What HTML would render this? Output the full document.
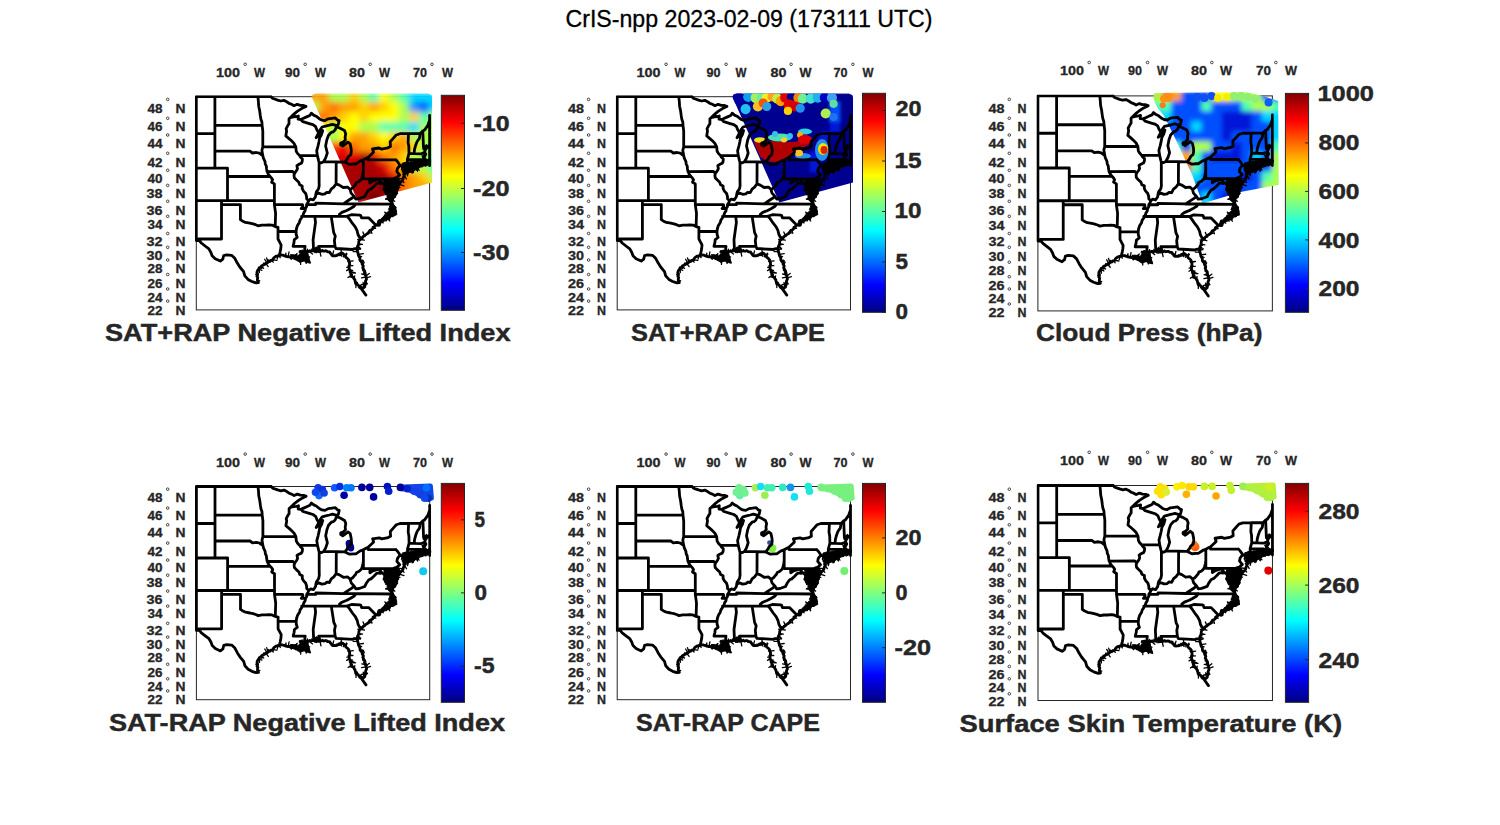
<!DOCTYPE html><html><head><meta charset="utf-8"><style>html,body{margin:0;padding:0;background:#fff;width:1500px;height:825px;overflow:hidden}svg{display:block}text{font-family:"Liberation Sans",sans-serif}</style></head><body>
<svg width="1500" height="825" viewBox="0 0 1500 825">
<defs>
<linearGradient id="jet" x1="0" y1="1" x2="0" y2="0"><stop offset="0" stop-color="#000080"/><stop offset="0.125" stop-color="#0000ff"/><stop offset="0.375" stop-color="#00ffff"/><stop offset="0.625" stop-color="#ffff00"/><stop offset="0.875" stop-color="#ff0000"/><stop offset="1" stop-color="#800000"/></linearGradient>
<clipPath id="fc"><rect x="-1.5" y="-1.5" width="236.3" height="216.2"/></clipPath>
<g id="map"><path d="M0.0,0.0 L74.7,0.0 M74.7,0.0 L76.0,1.4 L77.6,2.1 L81.3,3.4 L84.5,4.3 L87.6,3.6 L90.8,5.3 L92.7,6.7 L95.2,7.6 L97.7,9.0 L100.9,7.6 L104.0,8.6 L107.2,8.8 L109.7,9.7 M109.7,9.7 L105.3,11.9 L100.9,14.7 L97.1,17.9 L93.9,21.0 M93.9,21.0 L92.7,22.1 L92.7,27.1 L91.7,28.5 L89.8,32.1 L90.3,34.3 L89.5,39.2 L92.7,41.9 L95.2,44.1 L97.7,46.7 L99.5,50.2 M93.9,21.0 L97.1,20.2 L100.2,19.8 L102.1,19.3 L101.8,22.5 L104.5,22.8 M104.5,22.8 L106.6,25.0 L112.9,26.9 L116.6,28.0 L119.2,29.8 L120.7,33.4 L122.3,36.1 M122.3,36.1 L124.2,32.5 L125.8,30.3 L129.3,29.4 L133.0,28.5 L136.2,27.6 L140.3,28.9 L141.9,28.0 L142.8,23.9 L141.2,23.4 L139.0,21.2 L135.6,21.6 L131.8,22.1 L128.6,23.9 L125.5,23.4 L123.6,22.5 L119.8,19.5 L117.3,18.4 L115.0,16.5 L113.5,18.8 L110.3,20.2 L107.2,21.6 L104.5,22.8 M122.3,36.1 L121.4,37.9 L119.8,41.0 L121.7,39.2 L123.9,36.1 L126.4,33.9 L125.2,37.9 L123.3,41.4 L122.6,45.4 L121.7,49.3 L120.4,54.1 L121.1,58.9 M103.1,58.7 L121.1,58.9 M121.1,58.9 L122.3,63.9 L122.8,65.6 L124.8,66.2 L127.2,65.1 M127.2,65.1 L129.3,61.4 L131.0,56.3 L129.3,49.3 L130.5,43.2 L132.1,38.8 L134.9,35.7 L136.8,35.2 L138.7,33.4 L140.3,30.0 M140.3,30.0 L143.8,31.6 L148.2,33.9 L149.4,37.0 L148.8,40.6 L149.1,43.2 L145.6,46.7 L146.3,49.3 L148.8,47.6 L151.6,45.4 L153.8,47.2 L154.8,51.9 L155.0,54.5 L154.5,58.0 L152.0,60.1 L150.7,62.7 L148.5,65.4 M127.2,65.1 L139.9,65.1 L148.5,65.4 M61.6,0.0 L62.1,4.8 L62.4,9.5 L63.4,14.2 L64.0,18.8 L64.6,22.5 L65.6,25.3 L65.8,28.6 M65.8,28.6 L66.5,34.3 L66.5,50.2 M66.5,50.2 L99.5,50.2 M66.5,50.2 L65.6,53.7 L66.5,58.9 M18.6,54.5 L53.6,54.5 L56.1,56.3 L59.9,55.8 L63.0,56.5 L65.6,58.4 L66.5,58.9 M66.5,58.9 L67.1,61.4 L68.7,64.8 L69.0,67.3 L70.0,69.4 L70.3,72.3 L70.8,75.0 L71.9,77.3 L73.7,79.8 M73.7,79.8 L75.0,81.0 L76.3,83.1 L75.3,85.5 L78.1,87.2 L78.1,104.0 M70.8,75.0 L96.3,74.8 L98.2,76.7 M99.5,50.2 L99.9,54.5 L101.2,56.7 L103.1,58.7 L104.3,60.5 L106.1,62.2 L105.9,64.8 L105.0,66.6 L102.5,67.7 L100.6,69.0 L101.2,71.9 L100.2,74.0 L98.2,76.7 M98.2,76.7 L97.7,78.6 L98.0,81.0 L99.9,83.1 L102.5,85.5 L103.4,88.0 L105.9,89.2 L105.9,92.0 L107.2,94.4 L109.4,96.8 L110.3,100.0 L110.3,102.0 L112.4,104.0 M112.4,104.0 L111.6,105.9 L110.3,107.9 L110.3,109.9 L109.1,111.8 L108.8,114.2 L107.5,116.1 L106.6,118.8 L105.3,121.1 L103.7,123.4 L103.1,125.7 L101.2,128.7 L100.2,131.8 L99.8,134.8 M99.8,134.8 L99.9,137.8 L100.9,140.8 L98.0,143.0 L97.7,146.0 L97.1,148.2 L96.8,149.6 L108.8,149.6 L108.4,152.6 L109.7,155.5 M78.1,107.9 L106.2,107.9 L106.6,109.5 L104.9,111.8 L108.9,111.8 M18.6,0.0 L18.6,71.5 M0.0,37.0 L18.6,37.0 M18.6,28.6 L65.8,28.6 M0.0,71.5 L31.2,71.5 L31.2,104.0 M31.2,79.8 L73.7,79.8 M0.0,104.0 L78.1,104.0 M25.2,104.0 L25.2,142.3 L2.4,142.3 M25.2,107.9 L44.1,107.9 L44.1,122.9 M44.1,122.9 L46.0,124.2 L49.2,125.7 L53.6,126.5 L56.7,127.2 L59.3,128.0 L61.8,129.1 L65.6,128.4 L69.4,128.4 L72.5,128.1 L75.7,128.4 L78.8,129.9 L81.7,130.6 M78.1,107.9 L79.3,116.5 L78.9,129.9 M78.1,104.0 L78.1,107.9 M81.7,130.6 L81.7,134.6 L99.8,134.8 M81.7,134.6 L81.7,142.3 L83.2,145.2 L84.8,148.2 L84.5,151.8 L83.9,154.8 L82.9,159.0 M0.0,143.9 L3.0,143.9 L5.0,146.3 L8.8,149.3 L12.6,152.2 L14.5,155.5 L15.8,159.1 L18.9,162.0 L24.0,164.4 L26.5,162.4 L27.4,158.8 L30.3,158.1 L35.3,158.6 L38.5,161.6 L41.0,166.4 L43.5,170.3 L47.3,174.9 L48.5,179.2 L51.7,182.7 L55.5,184.8 L59.9,186.2 L62.1,185.9 M62.1,185.9 L61.7,184.6 L61.0,183.4 L61.2,182.0 L61.5,180.8 L60.6,179.6 L61.3,178.3 L60.8,177.1 L60.6,175.8 L60.9,174.6 L61.5,173.5 L62.4,172.3 L63.0,171.0 L64.2,170.7 L64.8,169.7 L65.6,168.9 L66.7,168.7 L67.5,167.8 L68.6,167.6 L69.4,166.7 L70.6,166.5 L71.5,165.5 L72.5,164.9 L73.8,164.6 L74.3,163.7 L75.5,163.6 L76.4,163.1 L76.9,162.0 L77.7,160.9 L78.8,160.2 L79.7,159.5 L80.9,159.7 L81.8,158.9 L82.9,159.0 M82.9,159.0 L84.0,158.7 L85.2,158.3 L86.4,158.4 L87.5,158.9 L88.6,159.2 L89.6,159.7 L90.8,159.9 L91.8,160.2 L92.9,160.2 L93.9,159.9 L95.1,159.9 L96.0,160.8 L97.1,161.0 L98.3,161.8 L99.6,162.4 L101.0,162.2 L102.2,162.4 L103.4,163.1 L104.4,163.6 L105.5,163.6 L106.6,163.5 L107.6,162.4 L109.1,162.0 L110.4,162.4 L111.3,163.5 L112.5,164.2 L112.2,162.9 L111.6,161.7 L110.4,161.3 L109.7,160.2 L110.0,158.4 L109.3,157.4 L108.4,156.6 L109.7,155.5 M109.7,155.5 L110.7,155.3 L111.5,154.6 L112.6,154.6 L113.5,154.0 L114.7,154.5 L116.0,154.1 L117.3,154.2 L118.1,153.5 L119.2,153.3 L119.8,151.8 L120.7,153.3 L120.1,155.1 L121.1,154.5 L122.3,154.8 L123.6,154.7 L124.8,154.4 L125.9,154.0 L127.1,154.5 L128.2,154.4 L129.3,154.0 L130.4,154.3 L131.2,155.2 L132.4,155.1 L133.5,155.4 L133.9,156.6 L134.9,157.0 L135.3,158.2 L136.2,159.1 L137.2,159.2 L138.3,159.0 L139.3,159.1 L140.6,158.8 L141.6,158.2 L142.5,157.3 L143.8,157.0 L145.0,156.2 L146.4,156.7 L147.5,157.7 L148.5,158.3 L149.1,159.1 L149.3,160.2 L150.1,161.0 L151.0,161.7 L151.9,162.5 L152.6,163.5 L152.6,164.7 L153.3,165.8 L153.2,167.1 L153.5,168.2 L152.6,169.2 L152.9,170.3 L152.9,171.4 L152.8,172.4 L153.6,173.3 L153.8,174.3 L153.8,175.3 L154.6,176.2 L154.5,177.5 L155.2,178.3 L155.5,179.5 L156.4,180.3 L157.3,181.1 L157.8,182.2 L158.6,183.1 L158.7,184.1 L159.1,185.2 L159.2,186.2 L159.7,187.5 L161.2,187.7 L162.1,188.6 L162.7,189.7 L163.4,190.8 L164.6,191.5 L165.5,190.8 L166.8,191.5 L167.7,190.8 L168.5,190.0 L168.0,188.7 L169.1,188.0 L169.3,186.9 L169.2,185.8 L169.2,184.6 L169.6,183.6 L170.2,182.5 L169.9,181.3 L169.7,180.3 L169.8,179.1 L169.0,178.2 L169.0,177.1 L168.7,176.0 L168.5,175.0 L168.1,174.0 L167.0,173.3 L167.1,172.1 L166.4,171.0 L167.0,169.6 L166.5,168.5 L165.8,167.4 L165.7,166.0 L164.9,164.9 L164.1,164.1 L163.6,163.2 L163.6,162.0 L163.5,160.9 L162.8,159.9 L162.2,158.9 L162.0,157.7 L161.7,156.7 L161.6,155.7 L161.0,154.8 L161.1,153.7 L161.1,151.8 M161.1,151.8 L161.0,150.5 L161.4,149.3 L162.0,148.2 L162.4,147.0 L162.4,145.7 L162.7,144.5 L163.0,143.4 L164.0,142.8 L164.7,142.0 L165.6,141.3 L166.3,140.4 L167.1,139.6 L168.2,139.3 L168.9,138.2 L169.9,137.7 L170.9,137.0 L171.8,136.5 L172.4,135.5 L173.0,134.7 L173.6,133.7 L174.6,133.3 L175.7,132.7 L176.5,131.9 L176.7,130.5 L177.9,130.0 L178.7,129.2 L179.4,128.3 M179.4,128.3 L180.6,128.2 L181.9,128.7 L183.2,128.4 L183.4,127.1 L183.9,125.9 L184.7,124.9 L185.5,124.0 L186.9,124.0 L187.5,122.8 L188.5,122.3 L189.8,122.4 L191.0,121.8 L192.3,122.3 L193.0,121.2 L193.6,119.9 L194.5,118.9 L196.1,119.1 L197.0,118.0 L198.6,117.6 L198.7,116.6 L198.0,115.5 L198.3,114.4 L198.3,113.4 L197.6,112.5 L197.2,111.4 L197.0,110.3 L196.8,108.8 L196.3,107.5 M196.3,107.5 L195.8,106.2 L195.8,104.8 L194.5,104.8 L193.6,104.0 L192.7,102.9 L192.6,101.6 L192.9,100.3 L193.6,99.2 L193.5,98.0 L193.9,96.8 L193.1,95.7 L193.2,94.4 L192.6,93.5 L192.8,92.2 L192.3,91.2 L192.8,90.2 L192.1,89.0 L192.6,88.0 L192.5,86.9 L192.0,85.9 L192.7,85.0 L194.0,84.8 L194.8,83.9 L195.5,83.5 L195.5,84.8 L194.6,85.9 L194.5,87.2 L194.4,88.2 L193.8,89.1 L193.4,90.1 L193.6,91.2 L193.8,92.4 L194.5,93.4 L195.1,94.4 L195.4,95.8 L196.4,96.8 L196.4,98.0 L196.6,99.3 L195.9,100.4 L196.0,101.6 L195.8,102.8 L196.1,101.7 L196.7,100.7 L197.7,100.0 L198.5,99.3 L198.4,98.0 L199.5,97.4 L199.9,96.4 L200.1,95.3 L200.4,94.3 L200.6,93.3 L201.4,92.4 L200.9,91.0 L201.1,89.6 L200.4,88.3 L199.6,87.2 L198.9,86.2 L198.6,85.0 L198.3,83.9 L198.6,82.9 L198.6,81.9 M196.8,82.1 L197.3,92.3 L201.4,92.4 M167.0,82.1 L196.8,82.1 L198.6,81.2 M167.0,63.1 L167.0,82.1 M167.0,74.5 L166.5,77.3 L165.8,80.6 L164.9,82.7 L162.7,84.7 L160.1,85.9 L159.2,88.0 L158.3,88.8 L156.4,91.2 L153.8,92.8 M153.8,92.8 L151.3,90.4 L146.9,90.8 L143.1,88.4 L139.8,87.2 M139.8,87.2 L137.4,90.4 L134.9,92.4 L133.0,96.0 L130.5,95.6 L128.6,97.2 L125.5,97.6 L122.3,96.4 L119.5,97.6 M119.5,97.6 L119.2,100.0 L117.0,103.2 L114.1,102.4 L112.4,104.0 M119.5,97.6 L120.1,95.2 L122.3,92.0 L122.9,88.8 L122.8,85.1 L122.8,65.6 M139.8,87.2 L139.9,65.1 M153.8,92.8 L154.8,96.4 L157.8,99.7 L155.4,101.6 L152.3,103.6 L147.0,107.1 M157.8,99.7 L159.5,102.4 L162.7,102.0 L164.9,101.2 L168.3,100.0 L169.9,96.8 L172.4,93.2 L174.6,92.4 L177.2,90.0 L180.3,86.8 L182.5,86.3 L183.9,86.9 L184.6,85.4 M167.0,82.1 L173.5,82.1 L173.5,86.3 L176.5,84.3 L179.7,83.5 L182.5,82.7 L184.1,84.3 L184.6,85.4 M184.6,85.4 L186.3,86.8 L188.5,88.4 L188.8,90.0 L187.6,92.8 L189.1,93.6 L191.7,94.8 L193.9,96.8 M110.3,107.9 L119.4,107.9 L119.4,106.5 L147.0,107.1 L159.6,107.2 L196.3,107.5 M159.6,107.2 L157.9,109.5 L153.8,112.0 L150.4,113.8 L145.6,115.7 L143.1,117.6 L143.0,119.6 M143.0,119.6 L105.3,119.6 M143.0,119.6 L150.7,119.6 L155.1,118.0 L163.7,118.4 L164.4,118.8 L165.2,121.1 L172.3,121.1 L179.4,128.3 M150.7,119.6 L152.9,121.9 L156.0,126.5 L158.9,130.2 L160.8,134.0 L161.7,137.8 L163.3,140.8 L164.7,142.0 M134.9,119.6 L137.4,135.9 L139.0,139.3 L138.1,143.7 L138.7,149.6 M161.1,151.8 L157.3,152.2 L156.4,152.8 L139.6,151.8 L138.7,149.6 L122.3,149.6 L122.3,154.8 M118.5,119.6 L119.2,125.7 L116.8,143.0 L117.3,154.2 M171.7,60.8 L171.7,63.1 L199.5,63.1 M148.5,65.4 L153.2,67.7 L157.6,67.3 L159.5,67.3 L163.9,64.4 L167.0,63.3 L169.6,61.8 L171.7,60.8 L176.5,56.3 L177.2,55.4 L176.2,52.3 M176.2,52.3 L182.8,51.3 L185.4,52.4 L191.7,51.1 L194.2,49.8 L193.9,45.0 L196.7,41.9 L199.9,38.3 L203.7,37.0 L212.2,36.9 L223.8,36.9 L226.5,34.3 L228.2,33.4 L231.4,28.9 L233.3,23.4 M199.5,63.1 L201.1,64.8 L203.7,68.5 L201.1,71.9 L200.5,74.8 L201.8,76.5 L203.3,78.2 L201.1,80.2 L198.6,81.9 M203.7,68.5 L208.7,71.5 M198.6,81.9 L198.9,82.9 L198.3,83.9 L198.7,84.9 L199.7,85.3 L200.5,85.9 L200.8,86.9 L201.5,87.7 L202.1,88.5 L203.0,87.7 L203.4,86.5 L204.3,85.5 L205.1,84.8 L205.8,84.1 L206.4,83.2 L206.8,82.3 L206.9,81.2 L207.4,80.3 L207.7,79.4 L207.7,78.3 L208.3,77.2 L208.1,76.1 L206.8,74.8 L208.1,74.0 L208.2,72.7 L208.7,71.5 M210.3,71.5 L211.2,70.7 L211.1,62.7 L212.7,56.7 L212.5,49.3 L211.8,45.8 L212.2,36.9 M208.1,74.8 L209.2,75.1 L210.2,74.2 L211.4,74.3 L212.5,74.4 L213.6,74.5 L214.5,73.7 L215.6,73.8 L216.5,72.9 L217.5,72.8 L218.4,71.9 L219.4,71.6 L220.6,71.5 L221.6,71.1 L220.4,71.3 L219.2,70.9 L218.1,72.0 L216.9,71.7 L215.8,71.5 L214.9,71.9 L213.9,71.9 L213.0,72.8 L211.9,72.0 L210.9,72.4 L210.0,72.8 L209.1,73.7 L208.1,74.4 M210.3,71.5 L211.2,71.0 L212.0,70.3 L213.2,70.4 L214.0,69.8 L215.0,69.4 L216.3,69.7 L217.5,69.1 L218.8,69.2 L220.2,68.9 L221.6,68.8 L222.7,68.3 L223.8,68.2 L225.1,68.1 L226.2,67.3 M221.6,68.8 L221.9,62.9 M211.1,62.7 L221.9,62.9 L224.6,62.9 L226.2,67.3 M226.2,67.3 L227.6,67.4 L228.9,66.9 L230.1,67.1 L231.0,66.2 L232.1,65.8 L233.3,66.1 L233.6,65.0 L233.6,63.9 L233.0,62.7 L232.2,63.6 L231.2,64.2 L230.1,64.8 L229.2,63.1 L228.7,62.0 L227.5,61.6 L227.0,60.5 L228.2,59.8 L228.9,58.8 L229.5,57.5 L229.0,56.5 L228.1,55.7 M212.7,56.7 L217.8,56.9 L225.1,57.1 L228.1,55.7 M217.8,56.9 L218.2,52.8 L219.4,48.5 L220.7,45.0 L223.2,41.4 L223.8,36.9 M228.1,55.7 L228.9,53.8 L227.2,51.1 L226.5,34.3 M228.9,53.8 L229.2,52.6 L230.1,51.7 L230.8,50.6 L231.8,50.0 L232.6,49.0 L233.3,48.0 M163.9,190.4 L169.6,198.4 M0.0,0.0 L0.0,143.9 M233.3,18.8 L233.3,69.0" fill="none" stroke="#000" stroke-width="2.8" stroke-linejoin="round" stroke-linecap="round" clip-path="url(#fc)"/><path d="M62.1,185.9 L57.2,186.0 M61.0,183.4 L63.5,184.1 M60.8,177.1 L59.5,177.9 M60.6,175.8 L61.9,176.9 M62.4,172.3 L65.6,173.6 M63.0,171.0 L63.1,175.9 M64.2,170.7 L65.5,171.7 M64.8,169.7 L67.3,171.6 M67.5,167.8 L67.6,166.1 M69.4,166.7 L71.9,169.9 M70.6,166.5 L68.4,162.5 M71.5,165.5 L70.3,161.2 M73.8,164.6 L71.7,163.1 M75.5,163.6 L76.9,165.5 M76.4,163.1 L80.6,163.7 M81.8,158.9 L80.9,162.3 M82.9,159.0 L83.9,161.0 M84.0,158.7 L84.0,155.0 M88.6,159.2 L89.5,157.1 M89.6,159.7 L89.6,156.4 M91.8,160.2 L92.7,155.3 M92.9,160.2 L95.0,162.6 M96.0,160.8 L96.2,159.2 M97.1,161.0 L95.5,162.0 M99.6,162.4 L99.9,157.7 M102.2,162.4 L105.5,159.0 M103.4,163.1 L105.0,161.6 M104.4,163.6 L104.3,167.7 M109.1,162.0 L109.7,165.9 M111.3,163.5 L109.1,165.1 M112.5,164.2 L109.8,166.6 M111.6,161.7 L111.7,164.3 M109.7,160.2 L113.4,160.3 M109.3,157.4 L110.4,154.8 M108.4,156.6 L110.3,157.6 M109.7,155.5 L111.7,157.3 M110.7,155.3 L110.8,159.4 M111.5,154.6 L111.1,152.5 M112.6,154.6 L116.2,157.4 M113.5,154.0 L110.5,156.8 M116.0,154.1 L115.4,152.3 M117.3,154.2 L118.6,155.9 M119.8,151.8 L123.1,151.1 M121.1,154.5 L119.9,150.3 M122.3,154.8 L119.8,151.5 M123.6,154.7 L124.6,159.4 M124.8,154.4 L123.3,150.7 M127.1,154.5 L126.2,152.9 M136.2,159.1 L137.3,154.3 M140.6,158.8 L139.8,157.5 M141.6,158.2 L144.0,158.6 M142.5,157.3 L142.9,158.9 M143.8,157.0 L145.4,159.5 M145.0,156.2 L144.8,153.0 M146.4,156.7 L144.8,159.0 M147.5,157.7 L147.1,160.1 M149.1,159.1 L150.7,157.3 M149.3,160.2 L150.0,156.4 M152.6,164.7 L156.8,164.2 M153.3,165.8 L151.3,164.3 M153.5,168.2 L152.9,166.0 M152.6,169.2 L156.6,169.0 M152.9,170.3 L150.5,170.7 M152.8,172.4 L150.3,173.9 M153.6,173.3 L156.3,173.7 M153.8,174.3 L158.1,175.9 M154.6,176.2 L159.2,176.3 M155.2,178.3 L151.7,180.9 M155.5,179.5 L156.0,178.0 M157.3,181.1 L153.1,180.0 M157.8,182.2 L158.4,179.1 M159.1,185.2 L161.0,186.2 M159.2,186.2 L161.1,185.6 M159.7,187.5 L159.6,190.9 M162.7,189.7 L165.3,187.7 M163.4,190.8 L164.6,189.4 M168.0,188.7 L166.8,185.7 M169.1,188.0 L166.4,187.4 M169.3,186.9 L164.8,188.3 M169.2,185.8 L167.4,187.2 M169.2,184.6 L171.1,187.2 M169.9,181.3 L174.2,179.9 M169.7,180.3 L165.2,181.1 M169.8,179.1 L173.0,176.8 M169.0,178.2 L165.4,177.3 M168.5,175.0 L167.3,176.3 M166.4,171.0 L169.1,174.5 M166.5,168.5 L167.9,165.6 M165.8,167.4 L167.4,168.7 M165.7,166.0 L167.1,164.1 M164.1,164.1 L166.5,163.4 M163.6,163.2 L167.7,165.4 M162.2,158.9 L165.3,160.0 M162.0,157.7 L167.0,157.0 M161.0,154.8 L156.8,154.9 M161.1,153.7 L164.4,151.5 M161.0,150.5 L163.2,150.4 M161.4,149.3 L164.1,152.5 M162.0,148.2 L163.8,148.2 M162.4,147.0 L166.1,147.7 M163.0,143.4 L161.4,142.7 M164.0,142.8 L168.1,143.5 M164.7,142.0 L164.4,140.2 M167.1,139.6 L166.3,142.1 M168.2,139.3 L166.6,135.3 M171.8,136.5 L174.2,136.2 M174.6,133.3 L175.6,136.7 M176.5,131.9 L179.4,131.6 M180.6,128.2 L178.1,130.8 M181.9,128.7 L181.9,123.7 M183.4,127.1 L178.9,128.5 M184.7,124.9 L186.9,126.2 M186.9,124.0 L189.1,124.1 M187.5,122.8 L188.2,118.3 M188.5,122.3 L187.9,119.5 M189.8,122.4 L190.3,124.1 M191.0,121.8 L192.8,118.1 M192.3,122.3 L193.5,124.3 M193.6,119.9 L191.0,118.9 M196.1,119.1 L192.5,116.6 M197.0,118.0 L197.5,119.5 M198.7,116.6 L197.2,117.7 M197.2,111.4 L199.5,110.6 M197.0,110.3 L194.2,111.4 M196.8,108.8 L194.2,112.6 M192.9,100.3 L193.5,102.1 M193.6,99.2 L197.0,100.9 M193.5,98.0 L191.3,97.3 M193.1,95.7 L189.0,96.2 M192.8,92.2 L194.6,91.6 M192.3,91.2 L190.6,90.1 M192.1,89.0 L190.6,88.8 M192.5,86.9 L191.0,86.6 M194.0,84.8 L196.6,89.0 M194.8,83.9 L196.1,86.9 M195.5,83.5 L199.2,84.7 M193.8,89.1 L197.2,91.1 M193.4,90.1 L197.2,92.3 M193.6,91.2 L196.9,90.2 M193.8,92.4 L195.6,89.9 M195.1,94.4 L197.7,95.6 M196.4,98.0 L192.8,96.1 M196.6,99.3 L194.8,98.7 M195.9,100.4 L192.3,103.3 M195.8,102.8 L198.4,104.6 M196.7,100.7 L192.6,97.9 M197.7,100.0 L197.5,97.9 M198.5,99.3 L201.2,96.5 M198.4,98.0 L199.1,99.9 M199.5,97.4 L196.5,94.0 M200.1,95.3 L201.1,96.7 M200.4,94.3 L196.4,93.0 M200.6,93.3 L200.0,91.7 M200.9,91.0 L203.6,90.8 M200.4,88.3 L195.7,89.5 M198.9,86.2 L195.3,85.0 M198.3,83.9 L194.1,85.0 M198.6,82.9 L201.7,80.4 M198.9,82.9 L195.2,83.4 M198.3,83.9 L202.6,81.9 M200.8,86.9 L198.8,87.3 M201.5,87.7 L199.2,87.6 M203.0,87.7 L207.6,89.1 M203.4,86.5 L199.1,84.7 M204.3,85.5 L201.1,82.8 M205.1,84.8 L202.6,83.9 M205.8,84.1 L207.6,85.8 M206.8,82.3 L202.3,81.7 M207.7,79.4 L211.1,76.4 M207.7,78.3 L210.1,82.2 M208.3,77.2 L206.3,77.5 M206.8,74.8 L205.1,72.7 M208.2,72.7 L205.4,71.8 M209.2,75.1 L209.0,70.6 M211.4,74.3 L211.5,70.1 M212.5,74.4 L211.1,79.2 M217.5,72.8 L214.8,70.5 M218.4,71.9 L216.8,76.0 M220.6,71.5 L222.8,73.6 M218.1,72.0 L220.1,67.8 M216.9,71.7 L215.8,76.4 M215.8,71.5 L215.6,69.3 M213.9,71.9 L215.8,76.2 M210.9,72.4 L209.4,70.3 M210.0,72.8 L209.2,68.8 M210.3,71.5 L207.3,70.0 M213.2,70.4 L211.3,69.8 M216.3,69.7 L215.3,67.0 M217.5,69.1 L216.6,65.7 M218.8,69.2 L217.6,73.3 M222.7,68.3 L222.3,66.0 M226.2,67.3 L226.4,69.8 M227.6,67.4 L225.4,63.3 M230.1,67.1 L229.6,62.9 M232.1,65.8 L232.4,62.7 M233.6,65.0 L229.5,62.6 M233.6,63.9 L231.7,65.8 M233.0,62.7 L235.0,65.5 M227.0,60.5 L225.7,59.2 M228.9,58.8 L226.5,59.0 M229.5,57.5 L226.7,59.6 M229.0,56.5 L227.1,58.4 M228.9,53.8 L226.8,52.5 M229.2,52.6 L228.0,49.7 M230.1,51.7 L228.9,48.8 M230.8,50.6 L230.1,48.3 M231.8,50.0 L230.0,48.0" fill="none" stroke="#000" stroke-width="1.3" stroke-linecap="round" clip-path="url(#fc)"/><polygon points="187.5,83.5 189.2,83.2 190.9,82.7 192.6,83.2 194.3,82.6 196.0,82.5 197.8,82.5 199.5,82.5 201.2,82.6 203.0,82.5 202.4,84.3 202.9,86.3 203.0,88.2 202.5,90.0 201.5,91.6 200.8,93.4 200.4,95.2 200.2,97.2 199.5,98.9 199.1,100.8 197.1,101.9 196.8,103.9 195.8,105.5 194.4,104.6 192.8,104.0 191.5,103.0 188.7,102.4 190.9,101.5 190.7,99.8 191.3,97.8 189.6,98.5 189.0,97.0 188.1,95.4 187.8,93.6 187.3,91.9 187.5,90.0 187.5,88.4 189.0,86.8 187.5,86.8 187.6,85.1 187.5,83.5" fill="#000" stroke="#000" stroke-width="1" stroke-linejoin="round"/><polygon points="195.0,107.0 196.6,108.1 198.4,109.0 199.7,110.5 199.6,112.4 200.2,114.2 200.3,116.1 200.5,118.0 198.8,118.4 197.1,118.7 195.3,118.7 193.7,119.7 192.0,120.0 190.6,121.4 188.6,121.6 186.9,122.5 185.4,123.7 184.0,125.0 182.3,126.3 180.5,127.5 181.5,124.5 182.5,123.0 184.5,122.8 185.5,121.2 186.9,120.3 188.1,119.0 189.5,118.0 188.3,115.2 190.4,116.2 191.7,114.7 193.8,113.6 192.1,112.8 193.0,111.0 193.6,108.8 195.0,107.0" fill="#000" stroke="#000" stroke-width="1" stroke-linejoin="round"/><polygon points="205.8,66.6 207.6,66.1 209.4,65.5 211.3,65.9 213.1,65.2 214.7,64.7 216.3,64.6 217.9,64.2 219.6,64.0 221.3,64.0 222.8,63.2 224.7,62.7 226.7,62.1 228.7,62.2 230.5,63.1 232.5,63.2 232.0,64.8 232.2,66.5 232.5,68.1 230.9,68.7 229.4,69.6 227.5,69.0 226.0,70.1 224.4,70.4 222.8,71.0 221.4,72.1 221.2,74.9 219.9,73.0 218.2,73.5 217.0,74.9 215.1,73.2 215.3,75.1 213.6,75.8 211.8,75.9 210.1,76.2 208.3,75.8 207.4,74.2 207.6,71.8 206.4,72.6 205.4,71.0 205.7,68.8 205.8,66.6" fill="#000" stroke="#000" stroke-width="1" stroke-linejoin="round"/><polygon points="103.0,154.0 104.6,153.8 106.2,153.4 107.9,153.9 109.5,153.5 110.4,154.9 111.0,156.5 111.8,158.0 112.3,159.7 112.6,161.4 112.8,163.2 113.8,164.8 114.2,166.5 112.3,166.2 110.7,164.8 108.8,164.5 106.9,164.4 105.2,165.0 103.5,165.8 102.1,164.7 100.4,163.8 99.5,162.2 98.5,160.7 96.7,160.1 95.5,158.9 94.0,158.0 97.0,158.0 98.7,158.3 100.9,156.6 100.3,158.9 102.0,159.3 102.9,157.6 104.5,156.1 102.7,155.8 103.0,154.0" fill="#000" stroke="#000" stroke-width="1" stroke-linejoin="round"/><circle cx="145.5" cy="47.2" r="2.6" fill="#000"/></g>
<clipPath id="sw0"><polygon points="115.1,-0.2 116.7,-2.5 119.7,-3.2 231.7,-3.2 235.2,-1.7 235.9,0.3 235.9,85.8 162.2,105.7"/></clipPath><clipPath id="sw1"><polygon points="115.0,-0.2 116.6,-2.5 119.6,-3.2 231.6,-3.2 235.1,-1.7 235.8,0.3 235.8,85.8 162.1,105.7"/></clipPath><clipPath id="sw2"><polygon points="115.1,-2.9 207.1,-3.9 224.1,0.1 239.1,5.1 239.6,88.1 201.6,95.3 163.8,106.6 161.1,98.9 153.9,79.1 147.6,65.6 141.3,52.1 136.8,42.5 130.5,29.9 125.1,19.1 119.1,12.1 115.1,4.1"/></clipPath><filter id="bls" x="-5%" y="-5%" width="110%" height="110%"><feGaussianBlur stdDeviation="0.7"/></filter><filter id="bl0" x="-5%" y="-5%" width="110%" height="110%"><feGaussianBlur stdDeviation="3.2"/></filter><filter id="bl1" x="-5%" y="-5%" width="110%" height="110%"><feGaussianBlur stdDeviation="1.6"/></filter><filter id="bl2" x="-5%" y="-5%" width="110%" height="110%"><feGaussianBlur stdDeviation="2.4"/></filter>
</defs>
<g transform="translate(196.3,96.7)">
<rect x="0" y="0" width="233.3" height="213.2" fill="none" stroke="#262626" stroke-width="1"/>
<g clip-path="url(#sw0)"><g filter="url(#bl0)"><rect x="112.69999999999999" y="-4.700000000000003" width="12" height="12" fill="#ffa000"/><rect x="122.69999999999999" y="-4.700000000000003" width="12" height="12" fill="#ffa000"/><rect x="132.7" y="-4.700000000000003" width="12" height="12" fill="#a8ff50"/><rect x="142.7" y="-4.700000000000003" width="12" height="12" fill="#a8ff50"/><rect x="152.7" y="-4.700000000000003" width="12" height="12" fill="#ffd000"/><rect x="162.7" y="-4.700000000000003" width="12" height="12" fill="#a8ff50"/><rect x="172.7" y="-4.700000000000003" width="12" height="12" fill="#50ffb0"/><rect x="182.7" y="-4.700000000000003" width="12" height="12" fill="#ffff00"/><rect x="192.7" y="-4.700000000000003" width="12" height="12" fill="#a8ff50"/><rect x="202.7" y="-4.700000000000003" width="12" height="12" fill="#50ffb0"/><rect x="212.7" y="-4.700000000000003" width="12" height="12" fill="#00d8ff"/><rect x="222.7" y="-4.700000000000003" width="12" height="12" fill="#00d8ff"/><rect x="232.7" y="-4.700000000000003" width="12" height="12" fill="#00d8ff"/><rect x="112.69999999999999" y="5.299999999999997" width="12" height="12" fill="#a8ff50"/><rect x="122.69999999999999" y="5.299999999999997" width="12" height="12" fill="#ffa000"/><rect x="132.7" y="5.299999999999997" width="12" height="12" fill="#ff7000"/><rect x="142.7" y="5.299999999999997" width="12" height="12" fill="#ffa000"/><rect x="152.7" y="5.299999999999997" width="12" height="12" fill="#ffa000"/><rect x="162.7" y="5.299999999999997" width="12" height="12" fill="#ffd000"/><rect x="172.7" y="5.299999999999997" width="12" height="12" fill="#ffa000"/><rect x="182.7" y="5.299999999999997" width="12" height="12" fill="#ffd000"/><rect x="192.7" y="5.299999999999997" width="12" height="12" fill="#ffff00"/><rect x="202.7" y="5.299999999999997" width="12" height="12" fill="#a8ff50"/><rect x="212.7" y="5.299999999999997" width="12" height="12" fill="#0090ff"/><rect x="222.7" y="5.299999999999997" width="12" height="12" fill="#0050ff"/><rect x="232.7" y="5.299999999999997" width="12" height="12" fill="#00d8ff"/><rect x="112.69999999999999" y="15.299999999999997" width="12" height="12" fill="#ff7000"/><rect x="122.69999999999999" y="15.299999999999997" width="12" height="12" fill="#ff7000"/><rect x="132.7" y="15.299999999999997" width="12" height="12" fill="#ffa000"/><rect x="142.7" y="15.299999999999997" width="12" height="12" fill="#ffd000"/><rect x="152.7" y="15.299999999999997" width="12" height="12" fill="#ffff00"/><rect x="162.7" y="15.299999999999997" width="12" height="12" fill="#ffd000"/><rect x="172.7" y="15.299999999999997" width="12" height="12" fill="#ffff00"/><rect x="182.7" y="15.299999999999997" width="12" height="12" fill="#ffff00"/><rect x="192.7" y="15.299999999999997" width="12" height="12" fill="#ffff00"/><rect x="202.7" y="15.299999999999997" width="12" height="12" fill="#a8ff50"/><rect x="212.7" y="15.299999999999997" width="12" height="12" fill="#ffd000"/><rect x="222.7" y="15.299999999999997" width="12" height="12" fill="#50ffb0"/><rect x="232.7" y="15.299999999999997" width="12" height="12" fill="#a8ff50"/><rect x="112.69999999999999" y="25.299999999999997" width="12" height="12" fill="#ffff00"/><rect x="122.69999999999999" y="25.299999999999997" width="12" height="12" fill="#ffff00"/><rect x="132.7" y="25.299999999999997" width="12" height="12" fill="#a8ff50"/><rect x="142.7" y="25.299999999999997" width="12" height="12" fill="#ffff00"/><rect x="152.7" y="25.299999999999997" width="12" height="12" fill="#ffff00"/><rect x="162.7" y="25.299999999999997" width="12" height="12" fill="#a8ff50"/><rect x="172.7" y="25.299999999999997" width="12" height="12" fill="#a8ff50"/><rect x="182.7" y="25.299999999999997" width="12" height="12" fill="#50ffb0"/><rect x="192.7" y="25.299999999999997" width="12" height="12" fill="#50ffb0"/><rect x="202.7" y="25.299999999999997" width="12" height="12" fill="#50ffb0"/><rect x="212.7" y="25.299999999999997" width="12" height="12" fill="#00d8ff"/><rect x="222.7" y="25.299999999999997" width="12" height="12" fill="#a8ff50"/><rect x="232.7" y="25.299999999999997" width="12" height="12" fill="#a8ff50"/><rect x="112.69999999999999" y="35.3" width="12" height="12" fill="#a8ff50"/><rect x="122.69999999999999" y="35.3" width="12" height="12" fill="#a8ff50"/><rect x="132.7" y="35.3" width="12" height="12" fill="#a8ff50"/><rect x="142.7" y="35.3" width="12" height="12" fill="#ffff00"/><rect x="152.7" y="35.3" width="12" height="12" fill="#ffa000"/><rect x="162.7" y="35.3" width="12" height="12" fill="#ffa000"/><rect x="172.7" y="35.3" width="12" height="12" fill="#ffd000"/><rect x="182.7" y="35.3" width="12" height="12" fill="#ffff00"/><rect x="192.7" y="35.3" width="12" height="12" fill="#ffd000"/><rect x="202.7" y="35.3" width="12" height="12" fill="#ffa000"/><rect x="212.7" y="35.3" width="12" height="12" fill="#a8ff50"/><rect x="222.7" y="35.3" width="12" height="12" fill="#a8ff50"/><rect x="232.7" y="35.3" width="12" height="12" fill="#a8ff50"/><rect x="112.69999999999999" y="45.3" width="12" height="12" fill="#ff3800"/><rect x="122.69999999999999" y="45.3" width="12" height="12" fill="#ff3800"/><rect x="132.7" y="45.3" width="12" height="12" fill="#ff3800"/><rect x="142.7" y="45.3" width="12" height="12" fill="#e00000"/><rect x="152.7" y="45.3" width="12" height="12" fill="#ff7000"/><rect x="162.7" y="45.3" width="12" height="12" fill="#ffa000"/><rect x="172.7" y="45.3" width="12" height="12" fill="#ffa000"/><rect x="182.7" y="45.3" width="12" height="12" fill="#ffd000"/><rect x="192.7" y="45.3" width="12" height="12" fill="#ff7000"/><rect x="202.7" y="45.3" width="12" height="12" fill="#ffa000"/><rect x="212.7" y="45.3" width="12" height="12" fill="#ffd000"/><rect x="222.7" y="45.3" width="12" height="12" fill="#a8ff50"/><rect x="232.7" y="45.3" width="12" height="12" fill="#a8ff50"/><rect x="112.69999999999999" y="55.3" width="12" height="12" fill="#e00000"/><rect x="122.69999999999999" y="55.3" width="12" height="12" fill="#e00000"/><rect x="132.7" y="55.3" width="12" height="12" fill="#e00000"/><rect x="142.7" y="55.3" width="12" height="12" fill="#e00000"/><rect x="152.7" y="55.3" width="12" height="12" fill="#e00000"/><rect x="162.7" y="55.3" width="12" height="12" fill="#a80000"/><rect x="172.7" y="55.3" width="12" height="12" fill="#e00000"/><rect x="182.7" y="55.3" width="12" height="12" fill="#ff7000"/><rect x="192.7" y="55.3" width="12" height="12" fill="#ffa000"/><rect x="202.7" y="55.3" width="12" height="12" fill="#ffd000"/><rect x="212.7" y="55.3" width="12" height="12" fill="#a8ff50"/><rect x="222.7" y="55.3" width="12" height="12" fill="#a8ff50"/><rect x="232.7" y="55.3" width="12" height="12" fill="#50ffb0"/><rect x="112.69999999999999" y="65.3" width="12" height="12" fill="#a80000"/><rect x="122.69999999999999" y="65.3" width="12" height="12" fill="#a80000"/><rect x="132.7" y="65.3" width="12" height="12" fill="#a80000"/><rect x="142.7" y="65.3" width="12" height="12" fill="#a80000"/><rect x="152.7" y="65.3" width="12" height="12" fill="#a80000"/><rect x="162.7" y="65.3" width="12" height="12" fill="#a80000"/><rect x="172.7" y="65.3" width="12" height="12" fill="#a80000"/><rect x="182.7" y="65.3" width="12" height="12" fill="#e00000"/><rect x="192.7" y="65.3" width="12" height="12" fill="#ff7000"/><rect x="202.7" y="65.3" width="12" height="12" fill="#ffd000"/><rect x="212.7" y="65.3" width="12" height="12" fill="#a8ff50"/><rect x="222.7" y="65.3" width="12" height="12" fill="#a8ff50"/><rect x="232.7" y="65.3" width="12" height="12" fill="#50ffb0"/><rect x="112.69999999999999" y="75.3" width="12" height="12" fill="#a80000"/><rect x="122.69999999999999" y="75.3" width="12" height="12" fill="#a80000"/><rect x="132.7" y="75.3" width="12" height="12" fill="#a80000"/><rect x="142.7" y="75.3" width="12" height="12" fill="#a80000"/><rect x="152.7" y="75.3" width="12" height="12" fill="#a80000"/><rect x="162.7" y="75.3" width="12" height="12" fill="#a80000"/><rect x="172.7" y="75.3" width="12" height="12" fill="#a80000"/><rect x="182.7" y="75.3" width="12" height="12" fill="#a80000"/><rect x="192.7" y="75.3" width="12" height="12" fill="#e00000"/><rect x="202.7" y="75.3" width="12" height="12" fill="#ff7000"/><rect x="212.7" y="75.3" width="12" height="12" fill="#ffa000"/><rect x="222.7" y="75.3" width="12" height="12" fill="#ffd000"/><rect x="232.7" y="75.3" width="12" height="12" fill="#a8ff50"/><rect x="112.69999999999999" y="85.3" width="12" height="12" fill="#a80000"/><rect x="122.69999999999999" y="85.3" width="12" height="12" fill="#a80000"/><rect x="132.7" y="85.3" width="12" height="12" fill="#a80000"/><rect x="142.7" y="85.3" width="12" height="12" fill="#a80000"/><rect x="152.7" y="85.3" width="12" height="12" fill="#a80000"/><rect x="162.7" y="85.3" width="12" height="12" fill="#a80000"/><rect x="172.7" y="85.3" width="12" height="12" fill="#a80000"/><rect x="182.7" y="85.3" width="12" height="12" fill="#700000"/><rect x="192.7" y="85.3" width="12" height="12" fill="#ff3800"/><rect x="202.7" y="85.3" width="12" height="12" fill="#ff7000"/><rect x="212.7" y="85.3" width="12" height="12" fill="#ffa000"/><rect x="222.7" y="85.3" width="12" height="12" fill="#ffa000"/><rect x="232.7" y="85.3" width="12" height="12" fill="#ffd000"/><rect x="112.69999999999999" y="95.3" width="12" height="12" fill="#a80000"/><rect x="122.69999999999999" y="95.3" width="12" height="12" fill="#a80000"/><rect x="132.7" y="95.3" width="12" height="12" fill="#a80000"/><rect x="142.7" y="95.3" width="12" height="12" fill="#a80000"/><rect x="152.7" y="95.3" width="12" height="12" fill="#a80000"/><rect x="162.7" y="95.3" width="12" height="12" fill="#a80000"/><rect x="172.7" y="95.3" width="12" height="12" fill="#700000"/><rect x="182.7" y="95.3" width="12" height="12" fill="#a80000"/><rect x="192.7" y="95.3" width="12" height="12" fill="#ff3800"/><rect x="202.7" y="95.3" width="12" height="12" fill="#ff7000"/><rect x="212.7" y="95.3" width="12" height="12" fill="#ffa000"/><rect x="222.7" y="95.3" width="12" height="12" fill="#ffa000"/><rect x="232.7" y="95.3" width="12" height="12" fill="#ffa000"/></g></g>
<use href="#map"/>
</g>
<g transform="translate(617.2,96.7)">
<rect x="0" y="0" width="233.3" height="213.2" fill="none" stroke="#262626" stroke-width="1"/>
<g clip-path="url(#sw1)"><g filter="url(#bl1)"><rect x="112.59999999999991" y="-4.700000000000003" width="12" height="12" fill="#000090"/><rect x="122.59999999999991" y="-4.700000000000003" width="12" height="12" fill="#000090"/><rect x="132.5999999999999" y="-4.700000000000003" width="12" height="12" fill="#000090"/><rect x="142.5999999999999" y="-4.700000000000003" width="12" height="12" fill="#000090"/><rect x="152.5999999999999" y="-4.700000000000003" width="12" height="12" fill="#000090"/><rect x="162.5999999999999" y="-4.700000000000003" width="12" height="12" fill="#000090"/><rect x="172.5999999999999" y="-4.700000000000003" width="12" height="12" fill="#000090"/><rect x="182.5999999999999" y="-4.700000000000003" width="12" height="12" fill="#000090"/><rect x="192.5999999999999" y="-4.700000000000003" width="12" height="12" fill="#000090"/><rect x="202.5999999999999" y="-4.700000000000003" width="12" height="12" fill="#000090"/><rect x="212.5999999999999" y="-4.700000000000003" width="12" height="12" fill="#000090"/><rect x="222.5999999999999" y="-4.700000000000003" width="12" height="12" fill="#000090"/><rect x="232.5999999999999" y="-4.700000000000003" width="12" height="12" fill="#000090"/><rect x="112.59999999999991" y="5.299999999999997" width="12" height="12" fill="#000090"/><rect x="122.59999999999991" y="5.299999999999997" width="12" height="12" fill="#000090"/><rect x="132.5999999999999" y="5.299999999999997" width="12" height="12" fill="#000090"/><rect x="142.5999999999999" y="5.299999999999997" width="12" height="12" fill="#000090"/><rect x="152.5999999999999" y="5.299999999999997" width="12" height="12" fill="#000090"/><rect x="162.5999999999999" y="5.299999999999997" width="12" height="12" fill="#000090"/><rect x="172.5999999999999" y="5.299999999999997" width="12" height="12" fill="#000090"/><rect x="182.5999999999999" y="5.299999999999997" width="12" height="12" fill="#000090"/><rect x="192.5999999999999" y="5.299999999999997" width="12" height="12" fill="#000090"/><rect x="202.5999999999999" y="5.299999999999997" width="12" height="12" fill="#000090"/><rect x="212.5999999999999" y="5.299999999999997" width="12" height="12" fill="#0050ff"/><rect x="222.5999999999999" y="5.299999999999997" width="12" height="12" fill="#000090"/><rect x="232.5999999999999" y="5.299999999999997" width="12" height="12" fill="#000090"/><rect x="112.59999999999991" y="15.299999999999997" width="12" height="12" fill="#000090"/><rect x="122.59999999999991" y="15.299999999999997" width="12" height="12" fill="#000090"/><rect x="132.5999999999999" y="15.299999999999997" width="12" height="12" fill="#000090"/><rect x="142.5999999999999" y="15.299999999999997" width="12" height="12" fill="#000090"/><rect x="152.5999999999999" y="15.299999999999997" width="12" height="12" fill="#000090"/><rect x="162.5999999999999" y="15.299999999999997" width="12" height="12" fill="#000090"/><rect x="172.5999999999999" y="15.299999999999997" width="12" height="12" fill="#000090"/><rect x="182.5999999999999" y="15.299999999999997" width="12" height="12" fill="#000090"/><rect x="192.5999999999999" y="15.299999999999997" width="12" height="12" fill="#000090"/><rect x="202.5999999999999" y="15.299999999999997" width="12" height="12" fill="#000090"/><rect x="212.5999999999999" y="15.299999999999997" width="12" height="12" fill="#0050ff"/><rect x="222.5999999999999" y="15.299999999999997" width="12" height="12" fill="#000090"/><rect x="232.5999999999999" y="15.299999999999997" width="12" height="12" fill="#000090"/><rect x="112.59999999999991" y="25.299999999999997" width="12" height="12" fill="#000090"/><rect x="122.59999999999991" y="25.299999999999997" width="12" height="12" fill="#000090"/><rect x="132.5999999999999" y="25.299999999999997" width="12" height="12" fill="#000090"/><rect x="142.5999999999999" y="25.299999999999997" width="12" height="12" fill="#000090"/><rect x="152.5999999999999" y="25.299999999999997" width="12" height="12" fill="#000090"/><rect x="162.5999999999999" y="25.299999999999997" width="12" height="12" fill="#000090"/><rect x="172.5999999999999" y="25.299999999999997" width="12" height="12" fill="#000090"/><rect x="182.5999999999999" y="25.299999999999997" width="12" height="12" fill="#000090"/><rect x="192.5999999999999" y="25.299999999999997" width="12" height="12" fill="#000090"/><rect x="202.5999999999999" y="25.299999999999997" width="12" height="12" fill="#000090"/><rect x="212.5999999999999" y="25.299999999999997" width="12" height="12" fill="#0018d8"/><rect x="222.5999999999999" y="25.299999999999997" width="12" height="12" fill="#000090"/><rect x="232.5999999999999" y="25.299999999999997" width="12" height="12" fill="#000090"/><rect x="112.59999999999991" y="35.3" width="12" height="12" fill="#000090"/><rect x="122.59999999999991" y="35.3" width="12" height="12" fill="#000090"/><rect x="132.5999999999999" y="35.3" width="12" height="12" fill="#000090"/><rect x="142.5999999999999" y="35.3" width="12" height="12" fill="#000090"/><rect x="152.5999999999999" y="35.3" width="12" height="12" fill="#000090"/><rect x="162.5999999999999" y="35.3" width="12" height="12" fill="#000090"/><rect x="172.5999999999999" y="35.3" width="12" height="12" fill="#000090"/><rect x="182.5999999999999" y="35.3" width="12" height="12" fill="#000090"/><rect x="192.5999999999999" y="35.3" width="12" height="12" fill="#000090"/><rect x="202.5999999999999" y="35.3" width="12" height="12" fill="#0018d8"/><rect x="212.5999999999999" y="35.3" width="12" height="12" fill="#000090"/><rect x="222.5999999999999" y="35.3" width="12" height="12" fill="#000090"/><rect x="232.5999999999999" y="35.3" width="12" height="12" fill="#000090"/><rect x="112.59999999999991" y="45.3" width="12" height="12" fill="#000090"/><rect x="122.59999999999991" y="45.3" width="12" height="12" fill="#000090"/><rect x="132.5999999999999" y="45.3" width="12" height="12" fill="#000090"/><rect x="142.5999999999999" y="45.3" width="12" height="12" fill="#000090"/><rect x="152.5999999999999" y="45.3" width="12" height="12" fill="#000090"/><rect x="162.5999999999999" y="45.3" width="12" height="12" fill="#000090"/><rect x="172.5999999999999" y="45.3" width="12" height="12" fill="#000090"/><rect x="182.5999999999999" y="45.3" width="12" height="12" fill="#000090"/><rect x="192.5999999999999" y="45.3" width="12" height="12" fill="#000090"/><rect x="202.5999999999999" y="45.3" width="12" height="12" fill="#000090"/><rect x="212.5999999999999" y="45.3" width="12" height="12" fill="#000090"/><rect x="222.5999999999999" y="45.3" width="12" height="12" fill="#000090"/><rect x="232.5999999999999" y="45.3" width="12" height="12" fill="#000090"/><rect x="112.59999999999991" y="55.3" width="12" height="12" fill="#000090"/><rect x="122.59999999999991" y="55.3" width="12" height="12" fill="#000090"/><rect x="132.5999999999999" y="55.3" width="12" height="12" fill="#000090"/><rect x="142.5999999999999" y="55.3" width="12" height="12" fill="#000090"/><rect x="152.5999999999999" y="55.3" width="12" height="12" fill="#000090"/><rect x="162.5999999999999" y="55.3" width="12" height="12" fill="#000090"/><rect x="172.5999999999999" y="55.3" width="12" height="12" fill="#000090"/><rect x="182.5999999999999" y="55.3" width="12" height="12" fill="#000090"/><rect x="192.5999999999999" y="55.3" width="12" height="12" fill="#0018d8"/><rect x="202.5999999999999" y="55.3" width="12" height="12" fill="#000090"/><rect x="212.5999999999999" y="55.3" width="12" height="12" fill="#000090"/><rect x="222.5999999999999" y="55.3" width="12" height="12" fill="#000090"/><rect x="232.5999999999999" y="55.3" width="12" height="12" fill="#000090"/><rect x="112.59999999999991" y="65.3" width="12" height="12" fill="#000090"/><rect x="122.59999999999991" y="65.3" width="12" height="12" fill="#000090"/><rect x="132.5999999999999" y="65.3" width="12" height="12" fill="#000090"/><rect x="142.5999999999999" y="65.3" width="12" height="12" fill="#000090"/><rect x="152.5999999999999" y="65.3" width="12" height="12" fill="#000090"/><rect x="162.5999999999999" y="65.3" width="12" height="12" fill="#000090"/><rect x="172.5999999999999" y="65.3" width="12" height="12" fill="#000090"/><rect x="182.5999999999999" y="65.3" width="12" height="12" fill="#000090"/><rect x="192.5999999999999" y="65.3" width="12" height="12" fill="#0018d8"/><rect x="202.5999999999999" y="65.3" width="12" height="12" fill="#000090"/><rect x="212.5999999999999" y="65.3" width="12" height="12" fill="#000090"/><rect x="222.5999999999999" y="65.3" width="12" height="12" fill="#000090"/><rect x="232.5999999999999" y="65.3" width="12" height="12" fill="#000090"/><rect x="112.59999999999991" y="75.3" width="12" height="12" fill="#000090"/><rect x="122.59999999999991" y="75.3" width="12" height="12" fill="#000090"/><rect x="132.5999999999999" y="75.3" width="12" height="12" fill="#000090"/><rect x="142.5999999999999" y="75.3" width="12" height="12" fill="#000090"/><rect x="152.5999999999999" y="75.3" width="12" height="12" fill="#000090"/><rect x="162.5999999999999" y="75.3" width="12" height="12" fill="#000090"/><rect x="172.5999999999999" y="75.3" width="12" height="12" fill="#000090"/><rect x="182.5999999999999" y="75.3" width="12" height="12" fill="#000090"/><rect x="192.5999999999999" y="75.3" width="12" height="12" fill="#000090"/><rect x="202.5999999999999" y="75.3" width="12" height="12" fill="#000090"/><rect x="212.5999999999999" y="75.3" width="12" height="12" fill="#000090"/><rect x="222.5999999999999" y="75.3" width="12" height="12" fill="#000090"/><rect x="232.5999999999999" y="75.3" width="12" height="12" fill="#000090"/><rect x="112.59999999999991" y="85.3" width="12" height="12" fill="#000090"/><rect x="122.59999999999991" y="85.3" width="12" height="12" fill="#000090"/><rect x="132.5999999999999" y="85.3" width="12" height="12" fill="#000090"/><rect x="142.5999999999999" y="85.3" width="12" height="12" fill="#000090"/><rect x="152.5999999999999" y="85.3" width="12" height="12" fill="#000090"/><rect x="162.5999999999999" y="85.3" width="12" height="12" fill="#000090"/><rect x="172.5999999999999" y="85.3" width="12" height="12" fill="#000090"/><rect x="182.5999999999999" y="85.3" width="12" height="12" fill="#000090"/><rect x="192.5999999999999" y="85.3" width="12" height="12" fill="#000090"/><rect x="202.5999999999999" y="85.3" width="12" height="12" fill="#000090"/><rect x="212.5999999999999" y="85.3" width="12" height="12" fill="#000090"/><rect x="222.5999999999999" y="85.3" width="12" height="12" fill="#000090"/><rect x="232.5999999999999" y="85.3" width="12" height="12" fill="#000090"/><rect x="112.59999999999991" y="95.3" width="12" height="12" fill="#000090"/><rect x="122.59999999999991" y="95.3" width="12" height="12" fill="#000090"/><rect x="132.5999999999999" y="95.3" width="12" height="12" fill="#000090"/><rect x="142.5999999999999" y="95.3" width="12" height="12" fill="#000090"/><rect x="152.5999999999999" y="95.3" width="12" height="12" fill="#000090"/><rect x="162.5999999999999" y="95.3" width="12" height="12" fill="#000090"/><rect x="172.5999999999999" y="95.3" width="12" height="12" fill="#000090"/><rect x="182.5999999999999" y="95.3" width="12" height="12" fill="#000090"/><rect x="192.5999999999999" y="95.3" width="12" height="12" fill="#000090"/><rect x="202.5999999999999" y="95.3" width="12" height="12" fill="#000090"/><rect x="212.5999999999999" y="95.3" width="12" height="12" fill="#000090"/><rect x="222.5999999999999" y="95.3" width="12" height="12" fill="#000090"/><rect x="232.5999999999999" y="95.3" width="12" height="12" fill="#000090"/></g><g filter="url(#bls)"><polygon points="136.5,45.0 147.8,43.6 167.8,45.6 177.8,45.0 187.8,43.6 194.5,40.3 191.1,48.3 177.8,55.0 167.8,61.6 157.8,65.6 149.8,64.3 143.1,60.3" fill="#b00000"/><ellipse cx="142.8" cy="43.3" rx="6" ry="2.8" fill="#f0e020"/><ellipse cx="162.8" cy="40.8" rx="12" ry="4" fill="#50e0b0"/><ellipse cx="157.8" cy="37.3" rx="3" ry="3" fill="#30c0f0"/><ellipse cx="172.8" cy="39.3" rx="3" ry="3" fill="#30c0f0"/><ellipse cx="166.8" cy="43.3" rx="3" ry="2.5" fill="#ffd020"/><ellipse cx="187.8" cy="34.8" rx="7" ry="3" fill="#30d0e0"/><ellipse cx="182.8" cy="38.3" rx="3" ry="3" fill="#ffb000"/><ellipse cx="187.8" cy="42.8" rx="7" ry="4.5" fill="#e00000"/><ellipse cx="204.8" cy="53.3" rx="7" ry="11" fill="#2090f0"/><ellipse cx="205.8" cy="52.3" rx="5" ry="6" fill="#f0e000"/><ellipse cx="206.8" cy="53.3" rx="3.5" ry="4" fill="#e02000"/><ellipse cx="185.8" cy="59.3" rx="8" ry="3" fill="#2090f0"/><ellipse cx="181.8" cy="56.3" rx="4" ry="3.5" fill="#ffc020"/><circle cx="121.4" cy="1.9" r="6.1" fill="#0000a0"/><circle cx="131.0" cy="0.1" r="5.1" fill="#10a0f0"/><circle cx="139.0" cy="1.0" r="5.6" fill="#a0f060"/><circle cx="144.3" cy="1.0" r="4.6" fill="#60f0a0"/><circle cx="149.5" cy="1.0" r="5.1" fill="#f0f020"/><circle cx="154.8" cy="0.1" r="4.6" fill="#ffa020"/><circle cx="160.1" cy="1.9" r="5.1" fill="#c0f040"/><circle cx="163.6" cy="4.5" r="5.1" fill="#ffa000"/><circle cx="168.0" cy="1.0" r="5.1" fill="#e00000"/><circle cx="177.7" cy="4.5" r="5.1" fill="#e01000"/><circle cx="174.2" cy="0.1" r="4.6" fill="#000090"/><circle cx="181.2" cy="1.0" r="5.1" fill="#ff8000"/><circle cx="185.6" cy="1.9" r="5.1" fill="#70f090"/><circle cx="193.5" cy="1.9" r="5.1" fill="#40e0d0"/><circle cx="200.6" cy="1.0" r="5.1" fill="#20b0f0"/><circle cx="207.6" cy="1.0" r="5.1" fill="#0000c0"/><circle cx="214.7" cy="1.0" r="5.1" fill="#40a0f0"/><circle cx="128.4" cy="12.4" r="5.1" fill="#20c0f0"/><circle cx="140.7" cy="9.8" r="5.1" fill="#f8c020"/><circle cx="146.0" cy="6.3" r="4.6" fill="#ff5000"/><circle cx="149.5" cy="9.8" r="4.6" fill="#30a0e0"/><circle cx="172.4" cy="8.9" r="6.1" fill="#e00000"/><circle cx="177.7" cy="9.8" r="5.1" fill="#d00000"/><circle cx="170.7" cy="14.2" r="4.1" fill="#ffd000"/><circle cx="183.0" cy="11.5" r="4.6" fill="#2090f0"/><circle cx="216.4" cy="7.1" r="4.1" fill="#60e0a0"/><circle cx="208.5" cy="16.8" r="5.1" fill="#b0f050"/><circle cx="216.4" cy="20.3" r="4.1" fill="#2070f0"/></g></g>
<use href="#map"/>
</g>
<g transform="translate(1037.9,95.9) scale(1.005,1.0085)">
<rect x="0" y="0" width="233.3" height="213.2" fill="none" stroke="#262626" stroke-width="1"/>
<g clip-path="url(#sw2)"><g filter="url(#bl2)"><rect x="112.69999999999982" y="-4.900000000000006" width="12" height="12" fill="#a8ff50"/><rect x="122.69999999999982" y="-4.900000000000006" width="12" height="12" fill="#ff7000"/><rect x="132.69999999999982" y="-4.900000000000006" width="12" height="12" fill="#ffa000"/><rect x="142.69999999999982" y="-4.900000000000006" width="12" height="12" fill="#0050ff"/><rect x="152.69999999999982" y="-4.900000000000006" width="12" height="12" fill="#0050ff"/><rect x="162.69999999999982" y="-4.900000000000006" width="12" height="12" fill="#0050ff"/><rect x="172.69999999999982" y="-4.900000000000006" width="12" height="12" fill="#ffff00"/><rect x="182.69999999999982" y="-4.900000000000006" width="12" height="12" fill="#ffff00"/><rect x="192.69999999999982" y="-4.900000000000006" width="12" height="12" fill="#a8ff50"/><rect x="202.69999999999982" y="-4.900000000000006" width="12" height="12" fill="#a8ff50"/><rect x="212.69999999999982" y="-4.900000000000006" width="12" height="12" fill="#a8ff50"/><rect x="222.69999999999982" y="-4.900000000000006" width="12" height="12" fill="#0050ff"/><rect x="232.69999999999982" y="-4.900000000000006" width="12" height="12" fill="#0050ff"/><rect x="112.69999999999982" y="5.099999999999994" width="12" height="12" fill="#50ffb0"/><rect x="122.69999999999982" y="5.099999999999994" width="12" height="12" fill="#50ffb0"/><rect x="132.69999999999982" y="5.099999999999994" width="12" height="12" fill="#0050ff"/><rect x="142.69999999999982" y="5.099999999999994" width="12" height="12" fill="#0050ff"/><rect x="152.69999999999982" y="5.099999999999994" width="12" height="12" fill="#0050ff"/><rect x="162.69999999999982" y="5.099999999999994" width="12" height="12" fill="#50ffb0"/><rect x="172.69999999999982" y="5.099999999999994" width="12" height="12" fill="#0050ff"/><rect x="182.69999999999982" y="5.099999999999994" width="12" height="12" fill="#0050ff"/><rect x="192.69999999999982" y="5.099999999999994" width="12" height="12" fill="#0050ff"/><rect x="202.69999999999982" y="5.099999999999994" width="12" height="12" fill="#50ffb0"/><rect x="212.69999999999982" y="5.099999999999994" width="12" height="12" fill="#a8ff50"/><rect x="222.69999999999982" y="5.099999999999994" width="12" height="12" fill="#a8ff50"/><rect x="232.69999999999982" y="5.099999999999994" width="12" height="12" fill="#50ffb0"/><rect x="112.69999999999982" y="15.099999999999994" width="12" height="12" fill="#00d8ff"/><rect x="122.69999999999982" y="15.099999999999994" width="12" height="12" fill="#00d8ff"/><rect x="132.69999999999982" y="15.099999999999994" width="12" height="12" fill="#0050ff"/><rect x="142.69999999999982" y="15.099999999999994" width="12" height="12" fill="#0050ff"/><rect x="152.69999999999982" y="15.099999999999994" width="12" height="12" fill="#0050ff"/><rect x="162.69999999999982" y="15.099999999999994" width="12" height="12" fill="#0050ff"/><rect x="172.69999999999982" y="15.099999999999994" width="12" height="12" fill="#0050ff"/><rect x="182.69999999999982" y="15.099999999999994" width="12" height="12" fill="#0018d8"/><rect x="192.69999999999982" y="15.099999999999994" width="12" height="12" fill="#0018d8"/><rect x="202.69999999999982" y="15.099999999999994" width="12" height="12" fill="#0018d8"/><rect x="212.69999999999982" y="15.099999999999994" width="12" height="12" fill="#0050ff"/><rect x="222.69999999999982" y="15.099999999999994" width="12" height="12" fill="#00d8ff"/><rect x="232.69999999999982" y="15.099999999999994" width="12" height="12" fill="#00d8ff"/><rect x="112.69999999999982" y="25.099999999999994" width="12" height="12" fill="#0050ff"/><rect x="122.69999999999982" y="25.099999999999994" width="12" height="12" fill="#0050ff"/><rect x="132.69999999999982" y="25.099999999999994" width="12" height="12" fill="#0050ff"/><rect x="142.69999999999982" y="25.099999999999994" width="12" height="12" fill="#0050ff"/><rect x="152.69999999999982" y="25.099999999999994" width="12" height="12" fill="#00d8ff"/><rect x="162.69999999999982" y="25.099999999999994" width="12" height="12" fill="#0050ff"/><rect x="172.69999999999982" y="25.099999999999994" width="12" height="12" fill="#0050ff"/><rect x="182.69999999999982" y="25.099999999999994" width="12" height="12" fill="#0018d8"/><rect x="192.69999999999982" y="25.099999999999994" width="12" height="12" fill="#0018d8"/><rect x="202.69999999999982" y="25.099999999999994" width="12" height="12" fill="#0018d8"/><rect x="212.69999999999982" y="25.099999999999994" width="12" height="12" fill="#0050ff"/><rect x="222.69999999999982" y="25.099999999999994" width="12" height="12" fill="#0050ff"/><rect x="232.69999999999982" y="25.099999999999994" width="12" height="12" fill="#00d8ff"/><rect x="112.69999999999982" y="35.099999999999994" width="12" height="12" fill="#0050ff"/><rect x="122.69999999999982" y="35.099999999999994" width="12" height="12" fill="#0050ff"/><rect x="132.69999999999982" y="35.099999999999994" width="12" height="12" fill="#0050ff"/><rect x="142.69999999999982" y="35.099999999999994" width="12" height="12" fill="#0050ff"/><rect x="152.69999999999982" y="35.099999999999994" width="12" height="12" fill="#0050ff"/><rect x="162.69999999999982" y="35.099999999999994" width="12" height="12" fill="#0050ff"/><rect x="172.69999999999982" y="35.099999999999994" width="12" height="12" fill="#0050ff"/><rect x="182.69999999999982" y="35.099999999999994" width="12" height="12" fill="#0018d8"/><rect x="192.69999999999982" y="35.099999999999994" width="12" height="12" fill="#0050ff"/><rect x="202.69999999999982" y="35.099999999999994" width="12" height="12" fill="#0050ff"/><rect x="212.69999999999982" y="35.099999999999994" width="12" height="12" fill="#0050ff"/><rect x="222.69999999999982" y="35.099999999999994" width="12" height="12" fill="#0050ff"/><rect x="232.69999999999982" y="35.099999999999994" width="12" height="12" fill="#00d8ff"/><rect x="112.69999999999982" y="45.099999999999994" width="12" height="12" fill="#50ffb0"/><rect x="122.69999999999982" y="45.099999999999994" width="12" height="12" fill="#50ffb0"/><rect x="132.69999999999982" y="45.099999999999994" width="12" height="12" fill="#50ffb0"/><rect x="142.69999999999982" y="45.099999999999994" width="12" height="12" fill="#0050ff"/><rect x="152.69999999999982" y="45.099999999999994" width="12" height="12" fill="#a8ff50"/><rect x="162.69999999999982" y="45.099999999999994" width="12" height="12" fill="#a8ff50"/><rect x="172.69999999999982" y="45.099999999999994" width="12" height="12" fill="#0050ff"/><rect x="182.69999999999982" y="45.099999999999994" width="12" height="12" fill="#0050ff"/><rect x="192.69999999999982" y="45.099999999999994" width="12" height="12" fill="#0018d8"/><rect x="202.69999999999982" y="45.099999999999994" width="12" height="12" fill="#0050ff"/><rect x="212.69999999999982" y="45.099999999999994" width="12" height="12" fill="#0050ff"/><rect x="222.69999999999982" y="45.099999999999994" width="12" height="12" fill="#0050ff"/><rect x="232.69999999999982" y="45.099999999999994" width="12" height="12" fill="#50ffb0"/><rect x="112.69999999999982" y="55.099999999999994" width="12" height="12" fill="#a8ff50"/><rect x="122.69999999999982" y="55.099999999999994" width="12" height="12" fill="#a8ff50"/><rect x="132.69999999999982" y="55.099999999999994" width="12" height="12" fill="#a8ff50"/><rect x="142.69999999999982" y="55.099999999999994" width="12" height="12" fill="#ffa000"/><rect x="152.69999999999982" y="55.099999999999994" width="12" height="12" fill="#50ffb0"/><rect x="162.69999999999982" y="55.099999999999994" width="12" height="12" fill="#0050ff"/><rect x="172.69999999999982" y="55.099999999999994" width="12" height="12" fill="#0018d8"/><rect x="182.69999999999982" y="55.099999999999994" width="12" height="12" fill="#0018d8"/><rect x="192.69999999999982" y="55.099999999999994" width="12" height="12" fill="#0018d8"/><rect x="202.69999999999982" y="55.099999999999994" width="12" height="12" fill="#0050ff"/><rect x="212.69999999999982" y="55.099999999999994" width="12" height="12" fill="#00d8ff"/><rect x="222.69999999999982" y="55.099999999999994" width="12" height="12" fill="#0050ff"/><rect x="232.69999999999982" y="55.099999999999994" width="12" height="12" fill="#a8ff50"/><rect x="112.69999999999982" y="65.1" width="12" height="12" fill="#ff3800"/><rect x="122.69999999999982" y="65.1" width="12" height="12" fill="#ff3800"/><rect x="132.69999999999982" y="65.1" width="12" height="12" fill="#ff3800"/><rect x="142.69999999999982" y="65.1" width="12" height="12" fill="#ff3800"/><rect x="152.69999999999982" y="65.1" width="12" height="12" fill="#50ffb0"/><rect x="162.69999999999982" y="65.1" width="12" height="12" fill="#0050ff"/><rect x="172.69999999999982" y="65.1" width="12" height="12" fill="#0050ff"/><rect x="182.69999999999982" y="65.1" width="12" height="12" fill="#0050ff"/><rect x="192.69999999999982" y="65.1" width="12" height="12" fill="#0050ff"/><rect x="202.69999999999982" y="65.1" width="12" height="12" fill="#0050ff"/><rect x="212.69999999999982" y="65.1" width="12" height="12" fill="#0050ff"/><rect x="222.69999999999982" y="65.1" width="12" height="12" fill="#0050ff"/><rect x="232.69999999999982" y="65.1" width="12" height="12" fill="#a8ff50"/><rect x="112.69999999999982" y="75.1" width="12" height="12" fill="#00d8ff"/><rect x="122.69999999999982" y="75.1" width="12" height="12" fill="#00d8ff"/><rect x="132.69999999999982" y="75.1" width="12" height="12" fill="#00d8ff"/><rect x="142.69999999999982" y="75.1" width="12" height="12" fill="#00d8ff"/><rect x="152.69999999999982" y="75.1" width="12" height="12" fill="#00d8ff"/><rect x="162.69999999999982" y="75.1" width="12" height="12" fill="#0050ff"/><rect x="172.69999999999982" y="75.1" width="12" height="12" fill="#0050ff"/><rect x="182.69999999999982" y="75.1" width="12" height="12" fill="#0050ff"/><rect x="192.69999999999982" y="75.1" width="12" height="12" fill="#0050ff"/><rect x="202.69999999999982" y="75.1" width="12" height="12" fill="#0018d8"/><rect x="212.69999999999982" y="75.1" width="12" height="12" fill="#0050ff"/><rect x="222.69999999999982" y="75.1" width="12" height="12" fill="#50ffb0"/><rect x="232.69999999999982" y="75.1" width="12" height="12" fill="#a8ff50"/><rect x="112.69999999999982" y="85.1" width="12" height="12" fill="#0050ff"/><rect x="122.69999999999982" y="85.1" width="12" height="12" fill="#0050ff"/><rect x="132.69999999999982" y="85.1" width="12" height="12" fill="#0050ff"/><rect x="142.69999999999982" y="85.1" width="12" height="12" fill="#0050ff"/><rect x="152.69999999999982" y="85.1" width="12" height="12" fill="#0050ff"/><rect x="162.69999999999982" y="85.1" width="12" height="12" fill="#0050ff"/><rect x="172.69999999999982" y="85.1" width="12" height="12" fill="#0050ff"/><rect x="182.69999999999982" y="85.1" width="12" height="12" fill="#0050ff"/><rect x="192.69999999999982" y="85.1" width="12" height="12" fill="#0018d8"/><rect x="202.69999999999982" y="85.1" width="12" height="12" fill="#0050ff"/><rect x="212.69999999999982" y="85.1" width="12" height="12" fill="#0050ff"/><rect x="222.69999999999982" y="85.1" width="12" height="12" fill="#a8ff50"/><rect x="232.69999999999982" y="85.1" width="12" height="12" fill="#a8ff50"/><rect x="112.69999999999982" y="95.1" width="12" height="12" fill="#0050ff"/><rect x="122.69999999999982" y="95.1" width="12" height="12" fill="#0050ff"/><rect x="132.69999999999982" y="95.1" width="12" height="12" fill="#0050ff"/><rect x="142.69999999999982" y="95.1" width="12" height="12" fill="#0050ff"/><rect x="152.69999999999982" y="95.1" width="12" height="12" fill="#0050ff"/><rect x="162.69999999999982" y="95.1" width="12" height="12" fill="#00d8ff"/><rect x="172.69999999999982" y="95.1" width="12" height="12" fill="#0050ff"/><rect x="182.69999999999982" y="95.1" width="12" height="12" fill="#0018d8"/><rect x="192.69999999999982" y="95.1" width="12" height="12" fill="#0050ff"/><rect x="202.69999999999982" y="95.1" width="12" height="12" fill="#0050ff"/><rect x="212.69999999999982" y="95.1" width="12" height="12" fill="#0050ff"/><rect x="222.69999999999982" y="95.1" width="12" height="12" fill="#0050ff"/><rect x="232.69999999999982" y="95.1" width="12" height="12" fill="#a8ff50"/></g></g><circle cx="118.8" cy="1.1" r="3.6" fill="#b0f040"/><circle cx="125.1" cy="2.9" r="3.6" fill="#ff9010"/><circle cx="129.6" cy="2.0" r="4" fill="#ff9010"/><circle cx="124.2" cy="9.2" r="3" fill="#f08020"/><circle cx="158.4" cy="1.1" r="4" fill="#1050f0"/><circle cx="165.6" cy="2.0" r="4" fill="#1050f0"/><circle cx="172.8" cy="0.2" r="4" fill="#1050f0"/><circle cx="179.1" cy="2.0" r="3.8" fill="#f8e800"/><circle cx="188.1" cy="1.1" r="3.8" fill="#f0f000"/><circle cx="195.1" cy="0.1" r="4" fill="#90f070"/><circle cx="202.1" cy="0.1" r="4" fill="#90f070"/><circle cx="209.1" cy="1.1" r="4" fill="#90f070"/><circle cx="216.1" cy="3.1" r="4" fill="#90f070"/><circle cx="229.5" cy="6.5" r="4" fill="#1060f0"/>
<use href="#map"/>
</g>
<g transform="translate(196.4,486.5)">
<rect x="0" y="0" width="233.3" height="213.2" fill="none" stroke="#262626" stroke-width="1"/>
<polygon points="206,0.5 234,-0.5 235,11.5 226,9.8 211,2.5 206,2.5" fill="#1048e8" stroke="#1048e8" stroke-width="5" stroke-linejoin="round"/><circle cx="121.7" cy="1.3" r="3.8" fill="#1038e8"/><circle cx="126" cy="3.1" r="3.8" fill="#1030d0"/><circle cx="122.6" cy="9.1" r="3.8" fill="#1068ff"/><circle cx="127.7" cy="6.5" r="3.8" fill="#1040e0"/><circle cx="119.1" cy="5.7" r="3.8" fill="#1048f0"/><circle cx="138.2" cy="1.3" r="3.8" fill="#1058ff"/><circle cx="143.4" cy="0" r="3.8" fill="#0030e0"/><circle cx="150.3" cy="1.3" r="3.8" fill="#0080ff"/><circle cx="154.6" cy="1.3" r="3.8" fill="#0078ff"/><circle cx="147.7" cy="8.7" r="3.8" fill="#0000a0"/><circle cx="165.5" cy="0.9" r="3.8" fill="#000098"/><circle cx="173.3" cy="0.9" r="3.8" fill="#000098"/><circle cx="177.2" cy="10.4" r="3.8" fill="#0000a0"/><circle cx="191" cy="0" r="3.8" fill="#0010c0"/><circle cx="192.3" cy="4.8" r="3.8" fill="#0020d0"/><circle cx="204" cy="0.9" r="3.8" fill="#000098"/><circle cx="211" cy="2.2" r="3.8" fill="#0020d0"/><circle cx="217.9" cy="4.8" r="3.8" fill="#1040f0"/><circle cx="224" cy="8.3" r="3.8" fill="#1040e0"/><circle cx="230" cy="1.3" r="3.8" fill="#0070ff"/><circle cx="231.7" cy="11.7" r="3.8" fill="#0030c0"/><circle cx="228.3" cy="11.7" r="3.8" fill="#1048e8"/><circle cx="153.5" cy="59.5" r="3.8" fill="#000090"/><circle cx="152.8" cy="56.8" r="3.6" fill="#000090"/><circle cx="154.5" cy="61.5" r="3.4" fill="#000090"/><circle cx="226.8" cy="84.8" r="4" fill="#10c8f0"/>
<use href="#map"/>
</g>
<g transform="translate(617.2,486.5)">
<rect x="0" y="0" width="233.3" height="213.2" fill="none" stroke="#262626" stroke-width="1"/>
<polygon points="206,0.5 234,-0.5 235,11.5 226,9.8 211,2.5 206,2.5" fill="#78f080" stroke="#78f080" stroke-width="5" stroke-linejoin="round"/><circle cx="121.7" cy="1.3" r="3.8" fill="#70f090"/><circle cx="126" cy="3.1" r="3.8" fill="#70f090"/><circle cx="122.6" cy="9.1" r="3.8" fill="#60f0a0"/><circle cx="127.7" cy="6.5" r="3.8" fill="#70f090"/><circle cx="119.1" cy="5.7" r="3.8" fill="#70f090"/><circle cx="138.2" cy="1.3" r="3.8" fill="#a8f050"/><circle cx="143.4" cy="0" r="3.8" fill="#10e0f0"/><circle cx="150.3" cy="1.3" r="3.8" fill="#40f0b0"/><circle cx="154.6" cy="1.3" r="3.8" fill="#40f0b0"/><circle cx="147.7" cy="8.7" r="3.8" fill="#98f050"/><circle cx="165.5" cy="0.9" r="3.8" fill="#30e8c0"/><circle cx="173.3" cy="0.9" r="3.8" fill="#1890f0"/><circle cx="177.2" cy="10.4" r="3.8" fill="#10e0f0"/><circle cx="191" cy="0" r="3.8" fill="#20e8d8"/><circle cx="192.3" cy="4.8" r="3.8" fill="#20e8d8"/><circle cx="204" cy="0.9" r="3.8" fill="#78f080"/><circle cx="211" cy="2.2" r="3.8" fill="#78f080"/><circle cx="217.9" cy="4.8" r="3.8" fill="#78f080"/><circle cx="224" cy="8.3" r="3.8" fill="#78f080"/><circle cx="230" cy="1.3" r="3.8" fill="#78f080"/><circle cx="231.7" cy="11.7" r="3.8" fill="#78f080"/><circle cx="228.3" cy="11.7" r="3.8" fill="#78f080"/><circle cx="155" cy="61.7" r="4.2" fill="#80f040"/><circle cx="152.3" cy="56.2" r="2.4" fill="#3050a0"/><circle cx="227.1" cy="84.4" r="4" fill="#70f070"/>
<use href="#map"/>
</g>
<g transform="translate(1038,485.5) scale(1.005,1.0085)">
<rect x="0" y="0" width="233.3" height="213.2" fill="none" stroke="#262626" stroke-width="1"/>
<polygon points="206,0.5 234,-0.5 235,11.5 226,9.8 211,2.5 206,2.5" fill="#b8f038" stroke="#b8f038" stroke-width="5" stroke-linejoin="round"/><circle cx="121.7" cy="1.3" r="3.8" fill="#ffe000"/><circle cx="126" cy="3.1" r="3.8" fill="#ffe000"/><circle cx="122.6" cy="9.1" r="3.8" fill="#ffe000"/><circle cx="127.7" cy="6.5" r="3.8" fill="#d8f030"/><circle cx="119.1" cy="5.7" r="3.8" fill="#ffe000"/><circle cx="138.2" cy="1.3" r="3.8" fill="#fff000"/><circle cx="143.4" cy="0" r="3.8" fill="#ffe800"/><circle cx="150.3" cy="1.3" r="3.8" fill="#ffd800"/><circle cx="154.6" cy="1.3" r="3.8" fill="#ffd800"/><circle cx="147.7" cy="8.7" r="3.8" fill="#ffb000"/><circle cx="165.5" cy="0.9" r="3.8" fill="#c8f028"/><circle cx="173.3" cy="0.9" r="3.8" fill="#c8f028"/><circle cx="177.2" cy="10.4" r="3.8" fill="#f8a800"/><circle cx="191" cy="0" r="3.8" fill="#c0f030"/><circle cx="192.3" cy="4.8" r="3.8" fill="#c0f030"/><circle cx="204" cy="0.9" r="3.8" fill="#98f050"/><circle cx="211" cy="2.2" r="3.8" fill="#b0f040"/><circle cx="217.9" cy="4.8" r="3.8" fill="#b0f040"/><circle cx="224" cy="8.3" r="3.8" fill="#b0f040"/><circle cx="230" cy="1.3" r="3.8" fill="#d0f020"/><circle cx="231.7" cy="11.7" r="3.8" fill="#b0f040"/><circle cx="228.3" cy="11.7" r="3.8" fill="#b0f040"/><circle cx="156.3" cy="60.9" r="4.4" fill="#ff6010"/><circle cx="155.5" cy="58.5" r="3.4" fill="#ff7010"/><circle cx="229.2" cy="84.4" r="4" fill="#e00000"/>
<use href="#map"/>
</g>
<rect x="441.3" y="95.3" width="23.2" height="215.0" fill="url(#jet)" stroke="#262626" stroke-width="1"/>
<rect x="862.5" y="93.3" width="23.0" height="219.0" fill="url(#jet)" stroke="#262626" stroke-width="1"/>
<rect x="1285.4" y="93.4" width="23.2" height="218.9" fill="url(#jet)" stroke="#262626" stroke-width="1"/>
<rect x="441.3" y="483.4" width="23.2" height="218.9" fill="url(#jet)" stroke="#262626" stroke-width="1"/>
<rect x="862.5" y="483.4" width="23.0" height="218.9" fill="url(#jet)" stroke="#262626" stroke-width="1"/>
<rect x="1285.4" y="483.4" width="23.2" height="218.9" fill="url(#jet)" stroke="#262626" stroke-width="1"/>
<path d="M461.0,123.2 H464.5 M461.0,188.5 H464.5 M461.0,252.5 H464.5 M882.0,110.5 H885.5 M882.0,161.0 H885.5 M882.0,211.5 H885.5 M882.0,262.0 H885.5 M882.0,312.5 H885.5 M1305.1,94.4 H1308.6 M1305.1,142.9 H1308.6 M1305.1,191.4 H1308.6 M1305.1,239.9 H1308.6 M1305.1,288.4 H1308.6 M461.0,519.8 H464.5 M461.0,592.9 H464.5 M461.0,666.3 H464.5 M882.0,537.9 H885.5 M882.0,592.9 H885.5 M882.0,647.7 H885.5 M1305.1,511.3 H1308.6 M1305.1,585.1 H1308.6 M1305.1,659.7 H1308.6" stroke="#262626" stroke-width="1" fill="none"/>
<text x="565.5" y="27.0" font-size="23.5" font-weight="normal" textLength="367.0" lengthAdjust="spacingAndGlyphs" fill="#000000" stroke="#000000" stroke-width="0.3">CrIS-npp 2023-02-09 (173111 UTC)</text>
<text x="105.0" y="341.1" font-size="24" font-weight="bold" textLength="405.5" lengthAdjust="spacingAndGlyphs" fill="#262626" stroke="#262626" stroke-width="0.45">SAT+RAP Negative Lifted Index</text>
<text x="631.0" y="340.8" font-size="24" font-weight="bold" textLength="194.0" lengthAdjust="spacingAndGlyphs" fill="#262626" stroke="#262626" stroke-width="0.45">SAT+RAP CAPE</text>
<text x="1036.0" y="341.1" font-size="24" font-weight="bold" textLength="226.5" lengthAdjust="spacingAndGlyphs" fill="#262626" stroke="#262626" stroke-width="0.45">Cloud Press (hPa)</text>
<text x="109.0" y="730.8" font-size="24" font-weight="bold" textLength="396.0" lengthAdjust="spacingAndGlyphs" fill="#262626" stroke="#262626" stroke-width="0.45">SAT-RAP Negative Lifted Index</text>
<text x="636.0" y="730.7" font-size="24" font-weight="bold" textLength="184.0" lengthAdjust="spacingAndGlyphs" fill="#262626" stroke="#262626" stroke-width="0.45">SAT-RAP CAPE</text>
<text x="959.5" y="731.5" font-size="24" font-weight="bold" textLength="382.5" lengthAdjust="spacingAndGlyphs" fill="#262626" stroke="#262626" stroke-width="0.45">Surface Skin Temperature (K)</text>
<text x="473.5" y="130.6" font-size="21.5" font-weight="bold" textLength="36.0" lengthAdjust="spacingAndGlyphs" fill="#262626" stroke="#262626" stroke-width="0.45">-10</text>
<text x="473.0" y="195.9" font-size="21.5" font-weight="bold" textLength="36.5" lengthAdjust="spacingAndGlyphs" fill="#262626" stroke="#262626" stroke-width="0.45">-20</text>
<text x="473.0" y="259.9" font-size="21.5" font-weight="bold" textLength="36.5" lengthAdjust="spacingAndGlyphs" fill="#262626" stroke="#262626" stroke-width="0.45">-30</text>
<text x="895.5" y="116.4" font-size="21.5" font-weight="bold" textLength="26.0" lengthAdjust="spacingAndGlyphs" fill="#262626" stroke="#262626" stroke-width="0.45">20</text>
<text x="894.5" y="167.9" font-size="21.5" font-weight="bold" textLength="27.0" lengthAdjust="spacingAndGlyphs" fill="#262626" stroke="#262626" stroke-width="0.45">15</text>
<text x="894.5" y="218.2" font-size="21.5" font-weight="bold" textLength="27.0" lengthAdjust="spacingAndGlyphs" fill="#262626" stroke="#262626" stroke-width="0.45">10</text>
<text x="895.5" y="268.9" font-size="21.5" font-weight="bold" textLength="12.5" lengthAdjust="spacingAndGlyphs" fill="#262626" stroke="#262626" stroke-width="0.45">5</text>
<text x="895.5" y="319.2" font-size="21.5" font-weight="bold" textLength="12.5" lengthAdjust="spacingAndGlyphs" fill="#262626" stroke="#262626" stroke-width="0.45">0</text>
<text x="1317.5" y="101.4" font-size="21.5" font-weight="bold" textLength="56.5" lengthAdjust="spacingAndGlyphs" fill="#262626" stroke="#262626" stroke-width="0.45">1000</text>
<text x="1318.5" y="150.4" font-size="21.5" font-weight="bold" textLength="41.0" lengthAdjust="spacingAndGlyphs" fill="#262626" stroke="#262626" stroke-width="0.45">800</text>
<text x="1318.5" y="198.9" font-size="21.5" font-weight="bold" textLength="41.0" lengthAdjust="spacingAndGlyphs" fill="#262626" stroke="#262626" stroke-width="0.45">600</text>
<text x="1318.5" y="247.5" font-size="21.5" font-weight="bold" textLength="41.0" lengthAdjust="spacingAndGlyphs" fill="#262626" stroke="#262626" stroke-width="0.45">400</text>
<text x="1318.5" y="296" font-size="21.5" font-weight="bold" textLength="41.0" lengthAdjust="spacingAndGlyphs" fill="#262626" stroke="#262626" stroke-width="0.45">200</text>
<text x="474.5" y="527" font-size="21.5" font-weight="bold" textLength="10.5" lengthAdjust="spacingAndGlyphs" fill="#262626" stroke="#262626" stroke-width="0.45">5</text>
<text x="474.5" y="600" font-size="21.5" font-weight="bold" textLength="12.5" lengthAdjust="spacingAndGlyphs" fill="#262626" stroke="#262626" stroke-width="0.45">0</text>
<text x="474.0" y="673.4" font-size="21.5" font-weight="bold" textLength="20.5" lengthAdjust="spacingAndGlyphs" fill="#262626" stroke="#262626" stroke-width="0.45">-5</text>
<text x="895.5" y="544.8" font-size="21.5" font-weight="bold" textLength="26.0" lengthAdjust="spacingAndGlyphs" fill="#262626" stroke="#262626" stroke-width="0.45">20</text>
<text x="895.5" y="600" font-size="21.5" font-weight="bold" textLength="12.0" lengthAdjust="spacingAndGlyphs" fill="#262626" stroke="#262626" stroke-width="0.45">0</text>
<text x="894.5" y="654.7" font-size="21.5" font-weight="bold" textLength="36.5" lengthAdjust="spacingAndGlyphs" fill="#262626" stroke="#262626" stroke-width="0.45">-20</text>
<text x="1318.5" y="519" font-size="21.5" font-weight="bold" textLength="41.0" lengthAdjust="spacingAndGlyphs" fill="#262626" stroke="#262626" stroke-width="0.45">280</text>
<text x="1318.5" y="592.7" font-size="21.5" font-weight="bold" textLength="41.0" lengthAdjust="spacingAndGlyphs" fill="#262626" stroke="#262626" stroke-width="0.45">260</text>
<text x="1318.5" y="667.5" font-size="21.5" font-weight="bold" textLength="41.0" lengthAdjust="spacingAndGlyphs" fill="#262626" stroke="#262626" stroke-width="0.45">240</text>
<text x="216.0" y="76.80000000000001" font-size="12.8" font-weight="bold" textLength="24.0" lengthAdjust="spacingAndGlyphs" fill="#262626" stroke="#262626" stroke-width="0.3">100</text>
<text x="254.0" y="76.80000000000001" font-size="12.8" font-weight="bold" textLength="11.0" lengthAdjust="spacingAndGlyphs" fill="#262626" stroke="#262626" stroke-width="0.3">W</text>
<text x="285.0" y="76.80000000000001" font-size="12.8" font-weight="bold" textLength="15.0" lengthAdjust="spacingAndGlyphs" fill="#262626" stroke="#262626" stroke-width="0.3">90</text>
<text x="315.0" y="76.80000000000001" font-size="12.8" font-weight="bold" textLength="11.0" lengthAdjust="spacingAndGlyphs" fill="#262626" stroke="#262626" stroke-width="0.3">W</text>
<text x="349.0" y="76.80000000000001" font-size="12.8" font-weight="bold" textLength="16.0" lengthAdjust="spacingAndGlyphs" fill="#262626" stroke="#262626" stroke-width="0.3">80</text>
<text x="379.0" y="76.80000000000001" font-size="12.8" font-weight="bold" textLength="11.0" lengthAdjust="spacingAndGlyphs" fill="#262626" stroke="#262626" stroke-width="0.3">W</text>
<text x="413.0" y="76.80000000000001" font-size="12.8" font-weight="bold" textLength="14.0" lengthAdjust="spacingAndGlyphs" fill="#262626" stroke="#262626" stroke-width="0.3">70</text>
<text x="442.0" y="76.80000000000001" font-size="12.8" font-weight="bold" textLength="11.0" lengthAdjust="spacingAndGlyphs" fill="#262626" stroke="#262626" stroke-width="0.3">W</text>
<text x="147.5" y="113.0" font-size="12.8" font-weight="bold" textLength="15.0" lengthAdjust="spacingAndGlyphs" fill="#262626" stroke="#262626" stroke-width="0.3">48</text>
<text x="175.5" y="113.0" font-size="12.8" font-weight="bold" textLength="10.0" lengthAdjust="spacingAndGlyphs" fill="#262626" stroke="#262626" stroke-width="0.3">N</text>
<text x="147.5" y="131.0" font-size="12.8" font-weight="bold" textLength="15.0" lengthAdjust="spacingAndGlyphs" fill="#262626" stroke="#262626" stroke-width="0.3">46</text>
<text x="175.5" y="131.0" font-size="12.8" font-weight="bold" textLength="10.0" lengthAdjust="spacingAndGlyphs" fill="#262626" stroke="#262626" stroke-width="0.3">N</text>
<text x="147.5" y="148.0" font-size="12.8" font-weight="bold" textLength="15.0" lengthAdjust="spacingAndGlyphs" fill="#262626" stroke="#262626" stroke-width="0.3">44</text>
<text x="175.5" y="148.0" font-size="12.8" font-weight="bold" textLength="10.0" lengthAdjust="spacingAndGlyphs" fill="#262626" stroke="#262626" stroke-width="0.3">N</text>
<text x="147.5" y="167.0" font-size="12.8" font-weight="bold" textLength="15.0" lengthAdjust="spacingAndGlyphs" fill="#262626" stroke="#262626" stroke-width="0.3">42</text>
<text x="175.5" y="167.0" font-size="12.8" font-weight="bold" textLength="10.0" lengthAdjust="spacingAndGlyphs" fill="#262626" stroke="#262626" stroke-width="0.3">N</text>
<text x="147.5" y="183.0" font-size="12.8" font-weight="bold" textLength="15.0" lengthAdjust="spacingAndGlyphs" fill="#262626" stroke="#262626" stroke-width="0.3">40</text>
<text x="175.5" y="183.0" font-size="12.8" font-weight="bold" textLength="10.0" lengthAdjust="spacingAndGlyphs" fill="#262626" stroke="#262626" stroke-width="0.3">N</text>
<text x="146.5" y="198.0" font-size="12.8" font-weight="bold" textLength="16.0" lengthAdjust="spacingAndGlyphs" fill="#262626" stroke="#262626" stroke-width="0.3">38</text>
<text x="175.5" y="198.0" font-size="12.8" font-weight="bold" textLength="10.0" lengthAdjust="spacingAndGlyphs" fill="#262626" stroke="#262626" stroke-width="0.3">N</text>
<text x="146.5" y="215.0" font-size="12.8" font-weight="bold" textLength="16.0" lengthAdjust="spacingAndGlyphs" fill="#262626" stroke="#262626" stroke-width="0.3">36</text>
<text x="175.5" y="215.0" font-size="12.8" font-weight="bold" textLength="10.0" lengthAdjust="spacingAndGlyphs" fill="#262626" stroke="#262626" stroke-width="0.3">N</text>
<text x="147.5" y="229.09999999999997" font-size="12.8" font-weight="bold" textLength="15.0" lengthAdjust="spacingAndGlyphs" fill="#262626" stroke="#262626" stroke-width="0.3">34</text>
<text x="175.5" y="229.09999999999997" font-size="12.8" font-weight="bold" textLength="10.0" lengthAdjust="spacingAndGlyphs" fill="#262626" stroke="#262626" stroke-width="0.3">N</text>
<text x="146.5" y="246.3" font-size="12.8" font-weight="bold" textLength="16.0" lengthAdjust="spacingAndGlyphs" fill="#262626" stroke="#262626" stroke-width="0.3">32</text>
<text x="175.5" y="246.3" font-size="12.8" font-weight="bold" textLength="10.0" lengthAdjust="spacingAndGlyphs" fill="#262626" stroke="#262626" stroke-width="0.3">N</text>
<text x="146.5" y="260.0" font-size="12.8" font-weight="bold" textLength="16.0" lengthAdjust="spacingAndGlyphs" fill="#262626" stroke="#262626" stroke-width="0.3">30</text>
<text x="175.5" y="260.0" font-size="12.8" font-weight="bold" textLength="10.0" lengthAdjust="spacingAndGlyphs" fill="#262626" stroke="#262626" stroke-width="0.3">N</text>
<text x="147.5" y="272.7" font-size="12.8" font-weight="bold" textLength="15.0" lengthAdjust="spacingAndGlyphs" fill="#262626" stroke="#262626" stroke-width="0.3">28</text>
<text x="175.5" y="272.7" font-size="12.8" font-weight="bold" textLength="10.0" lengthAdjust="spacingAndGlyphs" fill="#262626" stroke="#262626" stroke-width="0.3">N</text>
<text x="147.5" y="287.7" font-size="12.8" font-weight="bold" textLength="15.0" lengthAdjust="spacingAndGlyphs" fill="#262626" stroke="#262626" stroke-width="0.3">26</text>
<text x="175.5" y="287.7" font-size="12.8" font-weight="bold" textLength="10.0" lengthAdjust="spacingAndGlyphs" fill="#262626" stroke="#262626" stroke-width="0.3">N</text>
<text x="147.5" y="301.8" font-size="12.8" font-weight="bold" textLength="15.0" lengthAdjust="spacingAndGlyphs" fill="#262626" stroke="#262626" stroke-width="0.3">24</text>
<text x="175.5" y="301.8" font-size="12.8" font-weight="bold" textLength="10.0" lengthAdjust="spacingAndGlyphs" fill="#262626" stroke="#262626" stroke-width="0.3">N</text>
<text x="147.5" y="314.9" font-size="12.8" font-weight="bold" textLength="15.0" lengthAdjust="spacingAndGlyphs" fill="#262626" stroke="#262626" stroke-width="0.3">22</text>
<text x="175.5" y="314.9" font-size="12.8" font-weight="bold" textLength="10.0" lengthAdjust="spacingAndGlyphs" fill="#262626" stroke="#262626" stroke-width="0.3">N</text>
<text x="636.5" y="76.80000000000001" font-size="12.8" font-weight="bold" textLength="24.0" lengthAdjust="spacingAndGlyphs" fill="#262626" stroke="#262626" stroke-width="0.3">100</text>
<text x="674.5" y="76.80000000000001" font-size="12.8" font-weight="bold" textLength="11.0" lengthAdjust="spacingAndGlyphs" fill="#262626" stroke="#262626" stroke-width="0.3">W</text>
<text x="706.5" y="76.80000000000001" font-size="12.8" font-weight="bold" textLength="14.0" lengthAdjust="spacingAndGlyphs" fill="#262626" stroke="#262626" stroke-width="0.3">90</text>
<text x="735.5" y="76.80000000000001" font-size="12.8" font-weight="bold" textLength="11.0" lengthAdjust="spacingAndGlyphs" fill="#262626" stroke="#262626" stroke-width="0.3">W</text>
<text x="770.5" y="76.80000000000001" font-size="12.8" font-weight="bold" textLength="16.0" lengthAdjust="spacingAndGlyphs" fill="#262626" stroke="#262626" stroke-width="0.3">80</text>
<text x="799.5" y="76.80000000000001" font-size="12.8" font-weight="bold" textLength="12.0" lengthAdjust="spacingAndGlyphs" fill="#262626" stroke="#262626" stroke-width="0.3">W</text>
<text x="833.5" y="76.80000000000001" font-size="12.8" font-weight="bold" textLength="14.0" lengthAdjust="spacingAndGlyphs" fill="#262626" stroke="#262626" stroke-width="0.3">70</text>
<text x="862.5" y="76.80000000000001" font-size="12.8" font-weight="bold" textLength="11.0" lengthAdjust="spacingAndGlyphs" fill="#262626" stroke="#262626" stroke-width="0.3">W</text>
<text x="568.0" y="113.0" font-size="12.8" font-weight="bold" textLength="16.0" lengthAdjust="spacingAndGlyphs" fill="#262626" stroke="#262626" stroke-width="0.3">48</text>
<text x="597.0" y="113.0" font-size="12.8" font-weight="bold" textLength="9.0" lengthAdjust="spacingAndGlyphs" fill="#262626" stroke="#262626" stroke-width="0.3">N</text>
<text x="568.0" y="131.0" font-size="12.8" font-weight="bold" textLength="16.0" lengthAdjust="spacingAndGlyphs" fill="#262626" stroke="#262626" stroke-width="0.3">46</text>
<text x="597.0" y="131.0" font-size="12.8" font-weight="bold" textLength="9.0" lengthAdjust="spacingAndGlyphs" fill="#262626" stroke="#262626" stroke-width="0.3">N</text>
<text x="568.0" y="148.0" font-size="12.8" font-weight="bold" textLength="16.0" lengthAdjust="spacingAndGlyphs" fill="#262626" stroke="#262626" stroke-width="0.3">44</text>
<text x="597.0" y="148.0" font-size="12.8" font-weight="bold" textLength="9.0" lengthAdjust="spacingAndGlyphs" fill="#262626" stroke="#262626" stroke-width="0.3">N</text>
<text x="568.0" y="167.0" font-size="12.8" font-weight="bold" textLength="16.0" lengthAdjust="spacingAndGlyphs" fill="#262626" stroke="#262626" stroke-width="0.3">42</text>
<text x="597.0" y="167.0" font-size="12.8" font-weight="bold" textLength="9.0" lengthAdjust="spacingAndGlyphs" fill="#262626" stroke="#262626" stroke-width="0.3">N</text>
<text x="568.0" y="183.0" font-size="12.8" font-weight="bold" textLength="16.0" lengthAdjust="spacingAndGlyphs" fill="#262626" stroke="#262626" stroke-width="0.3">40</text>
<text x="597.0" y="183.0" font-size="12.8" font-weight="bold" textLength="9.0" lengthAdjust="spacingAndGlyphs" fill="#262626" stroke="#262626" stroke-width="0.3">N</text>
<text x="568.0" y="198.0" font-size="12.8" font-weight="bold" textLength="16.0" lengthAdjust="spacingAndGlyphs" fill="#262626" stroke="#262626" stroke-width="0.3">38</text>
<text x="597.0" y="198.0" font-size="12.8" font-weight="bold" textLength="9.0" lengthAdjust="spacingAndGlyphs" fill="#262626" stroke="#262626" stroke-width="0.3">N</text>
<text x="568.0" y="215.0" font-size="12.8" font-weight="bold" textLength="16.0" lengthAdjust="spacingAndGlyphs" fill="#262626" stroke="#262626" stroke-width="0.3">36</text>
<text x="597.0" y="215.0" font-size="12.8" font-weight="bold" textLength="9.0" lengthAdjust="spacingAndGlyphs" fill="#262626" stroke="#262626" stroke-width="0.3">N</text>
<text x="568.0" y="229.09999999999997" font-size="12.8" font-weight="bold" textLength="16.0" lengthAdjust="spacingAndGlyphs" fill="#262626" stroke="#262626" stroke-width="0.3">34</text>
<text x="597.0" y="229.09999999999997" font-size="12.8" font-weight="bold" textLength="9.0" lengthAdjust="spacingAndGlyphs" fill="#262626" stroke="#262626" stroke-width="0.3">N</text>
<text x="568.0" y="246.3" font-size="12.8" font-weight="bold" textLength="16.0" lengthAdjust="spacingAndGlyphs" fill="#262626" stroke="#262626" stroke-width="0.3">32</text>
<text x="597.0" y="246.3" font-size="12.8" font-weight="bold" textLength="9.0" lengthAdjust="spacingAndGlyphs" fill="#262626" stroke="#262626" stroke-width="0.3">N</text>
<text x="568.0" y="260.0" font-size="12.8" font-weight="bold" textLength="16.0" lengthAdjust="spacingAndGlyphs" fill="#262626" stroke="#262626" stroke-width="0.3">30</text>
<text x="597.0" y="260.0" font-size="12.8" font-weight="bold" textLength="9.0" lengthAdjust="spacingAndGlyphs" fill="#262626" stroke="#262626" stroke-width="0.3">N</text>
<text x="568.0" y="272.7" font-size="12.8" font-weight="bold" textLength="16.0" lengthAdjust="spacingAndGlyphs" fill="#262626" stroke="#262626" stroke-width="0.3">28</text>
<text x="597.0" y="272.7" font-size="12.8" font-weight="bold" textLength="9.0" lengthAdjust="spacingAndGlyphs" fill="#262626" stroke="#262626" stroke-width="0.3">N</text>
<text x="568.0" y="287.7" font-size="12.8" font-weight="bold" textLength="16.0" lengthAdjust="spacingAndGlyphs" fill="#262626" stroke="#262626" stroke-width="0.3">26</text>
<text x="597.0" y="287.7" font-size="12.8" font-weight="bold" textLength="9.0" lengthAdjust="spacingAndGlyphs" fill="#262626" stroke="#262626" stroke-width="0.3">N</text>
<text x="568.0" y="301.8" font-size="12.8" font-weight="bold" textLength="16.0" lengthAdjust="spacingAndGlyphs" fill="#262626" stroke="#262626" stroke-width="0.3">24</text>
<text x="597.0" y="301.8" font-size="12.8" font-weight="bold" textLength="9.0" lengthAdjust="spacingAndGlyphs" fill="#262626" stroke="#262626" stroke-width="0.3">N</text>
<text x="568.0" y="314.9" font-size="12.8" font-weight="bold" textLength="16.0" lengthAdjust="spacingAndGlyphs" fill="#262626" stroke="#262626" stroke-width="0.3">22</text>
<text x="597.0" y="314.9" font-size="12.8" font-weight="bold" textLength="9.0" lengthAdjust="spacingAndGlyphs" fill="#262626" stroke="#262626" stroke-width="0.3">N</text>
<text x="1060.0" y="75.00000000000001" font-size="12.8" font-weight="bold" textLength="24.0" lengthAdjust="spacingAndGlyphs" fill="#262626" stroke="#262626" stroke-width="0.3">100</text>
<text x="1098.0" y="75.00000000000001" font-size="12.8" font-weight="bold" textLength="11.0" lengthAdjust="spacingAndGlyphs" fill="#262626" stroke="#262626" stroke-width="0.3">W</text>
<text x="1128.0" y="75.00000000000001" font-size="12.8" font-weight="bold" textLength="14.0" lengthAdjust="spacingAndGlyphs" fill="#262626" stroke="#262626" stroke-width="0.3">90</text>
<text x="1157.0" y="75.00000000000001" font-size="12.8" font-weight="bold" textLength="11.0" lengthAdjust="spacingAndGlyphs" fill="#262626" stroke="#262626" stroke-width="0.3">W</text>
<text x="1191.0" y="75.00000000000001" font-size="12.8" font-weight="bold" textLength="16.0" lengthAdjust="spacingAndGlyphs" fill="#262626" stroke="#262626" stroke-width="0.3">80</text>
<text x="1220.0" y="75.00000000000001" font-size="12.8" font-weight="bold" textLength="12.0" lengthAdjust="spacingAndGlyphs" fill="#262626" stroke="#262626" stroke-width="0.3">W</text>
<text x="1256.0" y="75.00000000000001" font-size="12.8" font-weight="bold" textLength="15.0" lengthAdjust="spacingAndGlyphs" fill="#262626" stroke="#262626" stroke-width="0.3">70</text>
<text x="1285.0" y="75.00000000000001" font-size="12.8" font-weight="bold" textLength="12.0" lengthAdjust="spacingAndGlyphs" fill="#262626" stroke="#262626" stroke-width="0.3">W</text>
<text x="988.5" y="113.0" font-size="12.8" font-weight="bold" textLength="16.0" lengthAdjust="spacingAndGlyphs" fill="#262626" stroke="#262626" stroke-width="0.3">48</text>
<text x="1017.5" y="113.0" font-size="12.8" font-weight="bold" textLength="9.0" lengthAdjust="spacingAndGlyphs" fill="#262626" stroke="#262626" stroke-width="0.3">N</text>
<text x="988.5" y="131.0" font-size="12.8" font-weight="bold" textLength="16.0" lengthAdjust="spacingAndGlyphs" fill="#262626" stroke="#262626" stroke-width="0.3">46</text>
<text x="1017.5" y="131.0" font-size="12.8" font-weight="bold" textLength="9.0" lengthAdjust="spacingAndGlyphs" fill="#262626" stroke="#262626" stroke-width="0.3">N</text>
<text x="988.5" y="148.0" font-size="12.8" font-weight="bold" textLength="16.0" lengthAdjust="spacingAndGlyphs" fill="#262626" stroke="#262626" stroke-width="0.3">44</text>
<text x="1017.5" y="148.0" font-size="12.8" font-weight="bold" textLength="9.0" lengthAdjust="spacingAndGlyphs" fill="#262626" stroke="#262626" stroke-width="0.3">N</text>
<text x="988.5" y="167.0" font-size="12.8" font-weight="bold" textLength="16.0" lengthAdjust="spacingAndGlyphs" fill="#262626" stroke="#262626" stroke-width="0.3">42</text>
<text x="1017.5" y="167.0" font-size="12.8" font-weight="bold" textLength="9.0" lengthAdjust="spacingAndGlyphs" fill="#262626" stroke="#262626" stroke-width="0.3">N</text>
<text x="988.5" y="183.0" font-size="12.8" font-weight="bold" textLength="16.0" lengthAdjust="spacingAndGlyphs" fill="#262626" stroke="#262626" stroke-width="0.3">40</text>
<text x="1017.5" y="183.0" font-size="12.8" font-weight="bold" textLength="9.0" lengthAdjust="spacingAndGlyphs" fill="#262626" stroke="#262626" stroke-width="0.3">N</text>
<text x="988.5" y="198.0" font-size="12.8" font-weight="bold" textLength="16.0" lengthAdjust="spacingAndGlyphs" fill="#262626" stroke="#262626" stroke-width="0.3">38</text>
<text x="1017.5" y="198.0" font-size="12.8" font-weight="bold" textLength="9.0" lengthAdjust="spacingAndGlyphs" fill="#262626" stroke="#262626" stroke-width="0.3">N</text>
<text x="988.5" y="215.0" font-size="12.8" font-weight="bold" textLength="16.0" lengthAdjust="spacingAndGlyphs" fill="#262626" stroke="#262626" stroke-width="0.3">36</text>
<text x="1017.5" y="215.0" font-size="12.8" font-weight="bold" textLength="9.0" lengthAdjust="spacingAndGlyphs" fill="#262626" stroke="#262626" stroke-width="0.3">N</text>
<text x="988.5" y="229.59999999999997" font-size="12.8" font-weight="bold" textLength="16.0" lengthAdjust="spacingAndGlyphs" fill="#262626" stroke="#262626" stroke-width="0.3">34</text>
<text x="1017.5" y="229.59999999999997" font-size="12.8" font-weight="bold" textLength="9.0" lengthAdjust="spacingAndGlyphs" fill="#262626" stroke="#262626" stroke-width="0.3">N</text>
<text x="988.5" y="246.3" font-size="12.8" font-weight="bold" textLength="16.0" lengthAdjust="spacingAndGlyphs" fill="#262626" stroke="#262626" stroke-width="0.3">32</text>
<text x="1017.5" y="246.3" font-size="12.8" font-weight="bold" textLength="9.0" lengthAdjust="spacingAndGlyphs" fill="#262626" stroke="#262626" stroke-width="0.3">N</text>
<text x="988.5" y="260.5" font-size="12.8" font-weight="bold" textLength="16.0" lengthAdjust="spacingAndGlyphs" fill="#262626" stroke="#262626" stroke-width="0.3">30</text>
<text x="1017.5" y="260.5" font-size="12.8" font-weight="bold" textLength="9.0" lengthAdjust="spacingAndGlyphs" fill="#262626" stroke="#262626" stroke-width="0.3">N</text>
<text x="988.5" y="275.0" font-size="12.8" font-weight="bold" textLength="16.0" lengthAdjust="spacingAndGlyphs" fill="#262626" stroke="#262626" stroke-width="0.3">28</text>
<text x="1017.5" y="275.0" font-size="12.8" font-weight="bold" textLength="9.0" lengthAdjust="spacingAndGlyphs" fill="#262626" stroke="#262626" stroke-width="0.3">N</text>
<text x="988.5" y="289.59999999999997" font-size="12.8" font-weight="bold" textLength="16.0" lengthAdjust="spacingAndGlyphs" fill="#262626" stroke="#262626" stroke-width="0.3">26</text>
<text x="1017.5" y="289.59999999999997" font-size="12.8" font-weight="bold" textLength="9.0" lengthAdjust="spacingAndGlyphs" fill="#262626" stroke="#262626" stroke-width="0.3">N</text>
<text x="988.5" y="302.5" font-size="12.8" font-weight="bold" textLength="16.0" lengthAdjust="spacingAndGlyphs" fill="#262626" stroke="#262626" stroke-width="0.3">24</text>
<text x="1017.5" y="302.5" font-size="12.8" font-weight="bold" textLength="9.0" lengthAdjust="spacingAndGlyphs" fill="#262626" stroke="#262626" stroke-width="0.3">N</text>
<text x="988.5" y="316.9" font-size="12.8" font-weight="bold" textLength="16.0" lengthAdjust="spacingAndGlyphs" fill="#262626" stroke="#262626" stroke-width="0.3">22</text>
<text x="1017.5" y="316.9" font-size="12.8" font-weight="bold" textLength="9.0" lengthAdjust="spacingAndGlyphs" fill="#262626" stroke="#262626" stroke-width="0.3">N</text>
<text x="216.0" y="466.6" font-size="12.8" font-weight="bold" textLength="24.0" lengthAdjust="spacingAndGlyphs" fill="#262626" stroke="#262626" stroke-width="0.3">100</text>
<text x="254.0" y="466.6" font-size="12.8" font-weight="bold" textLength="11.0" lengthAdjust="spacingAndGlyphs" fill="#262626" stroke="#262626" stroke-width="0.3">W</text>
<text x="285.0" y="466.6" font-size="12.8" font-weight="bold" textLength="15.0" lengthAdjust="spacingAndGlyphs" fill="#262626" stroke="#262626" stroke-width="0.3">90</text>
<text x="315.0" y="466.6" font-size="12.8" font-weight="bold" textLength="11.0" lengthAdjust="spacingAndGlyphs" fill="#262626" stroke="#262626" stroke-width="0.3">W</text>
<text x="349.0" y="466.6" font-size="12.8" font-weight="bold" textLength="16.0" lengthAdjust="spacingAndGlyphs" fill="#262626" stroke="#262626" stroke-width="0.3">80</text>
<text x="379.0" y="466.6" font-size="12.8" font-weight="bold" textLength="11.0" lengthAdjust="spacingAndGlyphs" fill="#262626" stroke="#262626" stroke-width="0.3">W</text>
<text x="413.0" y="466.6" font-size="12.8" font-weight="bold" textLength="14.0" lengthAdjust="spacingAndGlyphs" fill="#262626" stroke="#262626" stroke-width="0.3">70</text>
<text x="442.0" y="466.6" font-size="12.8" font-weight="bold" textLength="11.0" lengthAdjust="spacingAndGlyphs" fill="#262626" stroke="#262626" stroke-width="0.3">W</text>
<text x="147.5" y="502.1" font-size="12.8" font-weight="bold" textLength="15.0" lengthAdjust="spacingAndGlyphs" fill="#262626" stroke="#262626" stroke-width="0.3">48</text>
<text x="175.5" y="502.1" font-size="12.8" font-weight="bold" textLength="10.0" lengthAdjust="spacingAndGlyphs" fill="#262626" stroke="#262626" stroke-width="0.3">N</text>
<text x="147.5" y="520.0999999999999" font-size="12.8" font-weight="bold" textLength="15.0" lengthAdjust="spacingAndGlyphs" fill="#262626" stroke="#262626" stroke-width="0.3">46</text>
<text x="175.5" y="520.0999999999999" font-size="12.8" font-weight="bold" textLength="10.0" lengthAdjust="spacingAndGlyphs" fill="#262626" stroke="#262626" stroke-width="0.3">N</text>
<text x="147.5" y="537.0999999999999" font-size="12.8" font-weight="bold" textLength="15.0" lengthAdjust="spacingAndGlyphs" fill="#262626" stroke="#262626" stroke-width="0.3">44</text>
<text x="175.5" y="537.0999999999999" font-size="12.8" font-weight="bold" textLength="10.0" lengthAdjust="spacingAndGlyphs" fill="#262626" stroke="#262626" stroke-width="0.3">N</text>
<text x="147.5" y="556.0999999999999" font-size="12.8" font-weight="bold" textLength="15.0" lengthAdjust="spacingAndGlyphs" fill="#262626" stroke="#262626" stroke-width="0.3">42</text>
<text x="175.5" y="556.0999999999999" font-size="12.8" font-weight="bold" textLength="10.0" lengthAdjust="spacingAndGlyphs" fill="#262626" stroke="#262626" stroke-width="0.3">N</text>
<text x="147.5" y="572.0999999999999" font-size="12.8" font-weight="bold" textLength="15.0" lengthAdjust="spacingAndGlyphs" fill="#262626" stroke="#262626" stroke-width="0.3">40</text>
<text x="175.5" y="572.0999999999999" font-size="12.8" font-weight="bold" textLength="10.0" lengthAdjust="spacingAndGlyphs" fill="#262626" stroke="#262626" stroke-width="0.3">N</text>
<text x="146.5" y="587.0999999999999" font-size="12.8" font-weight="bold" textLength="16.0" lengthAdjust="spacingAndGlyphs" fill="#262626" stroke="#262626" stroke-width="0.3">38</text>
<text x="175.5" y="587.0999999999999" font-size="12.8" font-weight="bold" textLength="10.0" lengthAdjust="spacingAndGlyphs" fill="#262626" stroke="#262626" stroke-width="0.3">N</text>
<text x="146.5" y="604.0999999999999" font-size="12.8" font-weight="bold" textLength="16.0" lengthAdjust="spacingAndGlyphs" fill="#262626" stroke="#262626" stroke-width="0.3">36</text>
<text x="175.5" y="604.0999999999999" font-size="12.8" font-weight="bold" textLength="10.0" lengthAdjust="spacingAndGlyphs" fill="#262626" stroke="#262626" stroke-width="0.3">N</text>
<text x="147.5" y="618.1999999999999" font-size="12.8" font-weight="bold" textLength="15.0" lengthAdjust="spacingAndGlyphs" fill="#262626" stroke="#262626" stroke-width="0.3">34</text>
<text x="175.5" y="618.1999999999999" font-size="12.8" font-weight="bold" textLength="10.0" lengthAdjust="spacingAndGlyphs" fill="#262626" stroke="#262626" stroke-width="0.3">N</text>
<text x="146.5" y="635.4" font-size="12.8" font-weight="bold" textLength="16.0" lengthAdjust="spacingAndGlyphs" fill="#262626" stroke="#262626" stroke-width="0.3">32</text>
<text x="175.5" y="635.4" font-size="12.8" font-weight="bold" textLength="10.0" lengthAdjust="spacingAndGlyphs" fill="#262626" stroke="#262626" stroke-width="0.3">N</text>
<text x="146.5" y="649.0999999999999" font-size="12.8" font-weight="bold" textLength="16.0" lengthAdjust="spacingAndGlyphs" fill="#262626" stroke="#262626" stroke-width="0.3">30</text>
<text x="175.5" y="649.0999999999999" font-size="12.8" font-weight="bold" textLength="10.0" lengthAdjust="spacingAndGlyphs" fill="#262626" stroke="#262626" stroke-width="0.3">N</text>
<text x="147.5" y="661.8" font-size="12.8" font-weight="bold" textLength="15.0" lengthAdjust="spacingAndGlyphs" fill="#262626" stroke="#262626" stroke-width="0.3">28</text>
<text x="175.5" y="661.8" font-size="12.8" font-weight="bold" textLength="10.0" lengthAdjust="spacingAndGlyphs" fill="#262626" stroke="#262626" stroke-width="0.3">N</text>
<text x="147.5" y="676.8" font-size="12.8" font-weight="bold" textLength="15.0" lengthAdjust="spacingAndGlyphs" fill="#262626" stroke="#262626" stroke-width="0.3">26</text>
<text x="175.5" y="676.8" font-size="12.8" font-weight="bold" textLength="10.0" lengthAdjust="spacingAndGlyphs" fill="#262626" stroke="#262626" stroke-width="0.3">N</text>
<text x="147.5" y="690.9" font-size="12.8" font-weight="bold" textLength="15.0" lengthAdjust="spacingAndGlyphs" fill="#262626" stroke="#262626" stroke-width="0.3">24</text>
<text x="175.5" y="690.9" font-size="12.8" font-weight="bold" textLength="10.0" lengthAdjust="spacingAndGlyphs" fill="#262626" stroke="#262626" stroke-width="0.3">N</text>
<text x="147.5" y="704.0" font-size="12.8" font-weight="bold" textLength="15.0" lengthAdjust="spacingAndGlyphs" fill="#262626" stroke="#262626" stroke-width="0.3">22</text>
<text x="175.5" y="704.0" font-size="12.8" font-weight="bold" textLength="10.0" lengthAdjust="spacingAndGlyphs" fill="#262626" stroke="#262626" stroke-width="0.3">N</text>
<text x="636.5" y="466.6" font-size="12.8" font-weight="bold" textLength="24.0" lengthAdjust="spacingAndGlyphs" fill="#262626" stroke="#262626" stroke-width="0.3">100</text>
<text x="674.5" y="466.6" font-size="12.8" font-weight="bold" textLength="11.0" lengthAdjust="spacingAndGlyphs" fill="#262626" stroke="#262626" stroke-width="0.3">W</text>
<text x="706.5" y="466.6" font-size="12.8" font-weight="bold" textLength="14.0" lengthAdjust="spacingAndGlyphs" fill="#262626" stroke="#262626" stroke-width="0.3">90</text>
<text x="735.5" y="466.6" font-size="12.8" font-weight="bold" textLength="11.0" lengthAdjust="spacingAndGlyphs" fill="#262626" stroke="#262626" stroke-width="0.3">W</text>
<text x="770.5" y="466.6" font-size="12.8" font-weight="bold" textLength="16.0" lengthAdjust="spacingAndGlyphs" fill="#262626" stroke="#262626" stroke-width="0.3">80</text>
<text x="799.5" y="466.6" font-size="12.8" font-weight="bold" textLength="12.0" lengthAdjust="spacingAndGlyphs" fill="#262626" stroke="#262626" stroke-width="0.3">W</text>
<text x="833.5" y="466.6" font-size="12.8" font-weight="bold" textLength="14.0" lengthAdjust="spacingAndGlyphs" fill="#262626" stroke="#262626" stroke-width="0.3">70</text>
<text x="862.5" y="466.6" font-size="12.8" font-weight="bold" textLength="11.0" lengthAdjust="spacingAndGlyphs" fill="#262626" stroke="#262626" stroke-width="0.3">W</text>
<text x="568.0" y="502.1" font-size="12.8" font-weight="bold" textLength="16.0" lengthAdjust="spacingAndGlyphs" fill="#262626" stroke="#262626" stroke-width="0.3">48</text>
<text x="597.0" y="502.1" font-size="12.8" font-weight="bold" textLength="9.0" lengthAdjust="spacingAndGlyphs" fill="#262626" stroke="#262626" stroke-width="0.3">N</text>
<text x="568.0" y="520.0999999999999" font-size="12.8" font-weight="bold" textLength="16.0" lengthAdjust="spacingAndGlyphs" fill="#262626" stroke="#262626" stroke-width="0.3">46</text>
<text x="597.0" y="520.0999999999999" font-size="12.8" font-weight="bold" textLength="9.0" lengthAdjust="spacingAndGlyphs" fill="#262626" stroke="#262626" stroke-width="0.3">N</text>
<text x="568.0" y="537.0999999999999" font-size="12.8" font-weight="bold" textLength="16.0" lengthAdjust="spacingAndGlyphs" fill="#262626" stroke="#262626" stroke-width="0.3">44</text>
<text x="597.0" y="537.0999999999999" font-size="12.8" font-weight="bold" textLength="9.0" lengthAdjust="spacingAndGlyphs" fill="#262626" stroke="#262626" stroke-width="0.3">N</text>
<text x="568.0" y="556.0999999999999" font-size="12.8" font-weight="bold" textLength="16.0" lengthAdjust="spacingAndGlyphs" fill="#262626" stroke="#262626" stroke-width="0.3">42</text>
<text x="597.0" y="556.0999999999999" font-size="12.8" font-weight="bold" textLength="9.0" lengthAdjust="spacingAndGlyphs" fill="#262626" stroke="#262626" stroke-width="0.3">N</text>
<text x="568.0" y="572.0999999999999" font-size="12.8" font-weight="bold" textLength="16.0" lengthAdjust="spacingAndGlyphs" fill="#262626" stroke="#262626" stroke-width="0.3">40</text>
<text x="597.0" y="572.0999999999999" font-size="12.8" font-weight="bold" textLength="9.0" lengthAdjust="spacingAndGlyphs" fill="#262626" stroke="#262626" stroke-width="0.3">N</text>
<text x="568.0" y="587.0999999999999" font-size="12.8" font-weight="bold" textLength="16.0" lengthAdjust="spacingAndGlyphs" fill="#262626" stroke="#262626" stroke-width="0.3">38</text>
<text x="597.0" y="587.0999999999999" font-size="12.8" font-weight="bold" textLength="9.0" lengthAdjust="spacingAndGlyphs" fill="#262626" stroke="#262626" stroke-width="0.3">N</text>
<text x="568.0" y="604.0999999999999" font-size="12.8" font-weight="bold" textLength="16.0" lengthAdjust="spacingAndGlyphs" fill="#262626" stroke="#262626" stroke-width="0.3">36</text>
<text x="597.0" y="604.0999999999999" font-size="12.8" font-weight="bold" textLength="9.0" lengthAdjust="spacingAndGlyphs" fill="#262626" stroke="#262626" stroke-width="0.3">N</text>
<text x="568.0" y="618.1999999999999" font-size="12.8" font-weight="bold" textLength="16.0" lengthAdjust="spacingAndGlyphs" fill="#262626" stroke="#262626" stroke-width="0.3">34</text>
<text x="597.0" y="618.1999999999999" font-size="12.8" font-weight="bold" textLength="9.0" lengthAdjust="spacingAndGlyphs" fill="#262626" stroke="#262626" stroke-width="0.3">N</text>
<text x="568.0" y="635.4" font-size="12.8" font-weight="bold" textLength="16.0" lengthAdjust="spacingAndGlyphs" fill="#262626" stroke="#262626" stroke-width="0.3">32</text>
<text x="597.0" y="635.4" font-size="12.8" font-weight="bold" textLength="9.0" lengthAdjust="spacingAndGlyphs" fill="#262626" stroke="#262626" stroke-width="0.3">N</text>
<text x="568.0" y="649.0999999999999" font-size="12.8" font-weight="bold" textLength="16.0" lengthAdjust="spacingAndGlyphs" fill="#262626" stroke="#262626" stroke-width="0.3">30</text>
<text x="597.0" y="649.0999999999999" font-size="12.8" font-weight="bold" textLength="9.0" lengthAdjust="spacingAndGlyphs" fill="#262626" stroke="#262626" stroke-width="0.3">N</text>
<text x="568.0" y="661.8" font-size="12.8" font-weight="bold" textLength="16.0" lengthAdjust="spacingAndGlyphs" fill="#262626" stroke="#262626" stroke-width="0.3">28</text>
<text x="597.0" y="661.8" font-size="12.8" font-weight="bold" textLength="9.0" lengthAdjust="spacingAndGlyphs" fill="#262626" stroke="#262626" stroke-width="0.3">N</text>
<text x="568.0" y="676.8" font-size="12.8" font-weight="bold" textLength="16.0" lengthAdjust="spacingAndGlyphs" fill="#262626" stroke="#262626" stroke-width="0.3">26</text>
<text x="597.0" y="676.8" font-size="12.8" font-weight="bold" textLength="9.0" lengthAdjust="spacingAndGlyphs" fill="#262626" stroke="#262626" stroke-width="0.3">N</text>
<text x="568.0" y="690.9" font-size="12.8" font-weight="bold" textLength="16.0" lengthAdjust="spacingAndGlyphs" fill="#262626" stroke="#262626" stroke-width="0.3">24</text>
<text x="597.0" y="690.9" font-size="12.8" font-weight="bold" textLength="9.0" lengthAdjust="spacingAndGlyphs" fill="#262626" stroke="#262626" stroke-width="0.3">N</text>
<text x="568.0" y="704.0" font-size="12.8" font-weight="bold" textLength="16.0" lengthAdjust="spacingAndGlyphs" fill="#262626" stroke="#262626" stroke-width="0.3">22</text>
<text x="597.0" y="704.0" font-size="12.8" font-weight="bold" textLength="9.0" lengthAdjust="spacingAndGlyphs" fill="#262626" stroke="#262626" stroke-width="0.3">N</text>
<text x="1060.0" y="464.8" font-size="12.8" font-weight="bold" textLength="24.0" lengthAdjust="spacingAndGlyphs" fill="#262626" stroke="#262626" stroke-width="0.3">100</text>
<text x="1098.0" y="464.8" font-size="12.8" font-weight="bold" textLength="11.0" lengthAdjust="spacingAndGlyphs" fill="#262626" stroke="#262626" stroke-width="0.3">W</text>
<text x="1128.0" y="464.8" font-size="12.8" font-weight="bold" textLength="14.0" lengthAdjust="spacingAndGlyphs" fill="#262626" stroke="#262626" stroke-width="0.3">90</text>
<text x="1157.0" y="464.8" font-size="12.8" font-weight="bold" textLength="11.0" lengthAdjust="spacingAndGlyphs" fill="#262626" stroke="#262626" stroke-width="0.3">W</text>
<text x="1191.0" y="464.8" font-size="12.8" font-weight="bold" textLength="16.0" lengthAdjust="spacingAndGlyphs" fill="#262626" stroke="#262626" stroke-width="0.3">80</text>
<text x="1220.0" y="464.8" font-size="12.8" font-weight="bold" textLength="12.0" lengthAdjust="spacingAndGlyphs" fill="#262626" stroke="#262626" stroke-width="0.3">W</text>
<text x="1256.0" y="464.8" font-size="12.8" font-weight="bold" textLength="15.0" lengthAdjust="spacingAndGlyphs" fill="#262626" stroke="#262626" stroke-width="0.3">70</text>
<text x="1285.0" y="464.8" font-size="12.8" font-weight="bold" textLength="12.0" lengthAdjust="spacingAndGlyphs" fill="#262626" stroke="#262626" stroke-width="0.3">W</text>
<text x="988.5" y="502.1" font-size="12.8" font-weight="bold" textLength="16.0" lengthAdjust="spacingAndGlyphs" fill="#262626" stroke="#262626" stroke-width="0.3">48</text>
<text x="1017.5" y="502.1" font-size="12.8" font-weight="bold" textLength="9.0" lengthAdjust="spacingAndGlyphs" fill="#262626" stroke="#262626" stroke-width="0.3">N</text>
<text x="988.5" y="520.0999999999999" font-size="12.8" font-weight="bold" textLength="16.0" lengthAdjust="spacingAndGlyphs" fill="#262626" stroke="#262626" stroke-width="0.3">46</text>
<text x="1017.5" y="520.0999999999999" font-size="12.8" font-weight="bold" textLength="9.0" lengthAdjust="spacingAndGlyphs" fill="#262626" stroke="#262626" stroke-width="0.3">N</text>
<text x="988.5" y="537.0999999999999" font-size="12.8" font-weight="bold" textLength="16.0" lengthAdjust="spacingAndGlyphs" fill="#262626" stroke="#262626" stroke-width="0.3">44</text>
<text x="1017.5" y="537.0999999999999" font-size="12.8" font-weight="bold" textLength="9.0" lengthAdjust="spacingAndGlyphs" fill="#262626" stroke="#262626" stroke-width="0.3">N</text>
<text x="988.5" y="556.0999999999999" font-size="12.8" font-weight="bold" textLength="16.0" lengthAdjust="spacingAndGlyphs" fill="#262626" stroke="#262626" stroke-width="0.3">42</text>
<text x="1017.5" y="556.0999999999999" font-size="12.8" font-weight="bold" textLength="9.0" lengthAdjust="spacingAndGlyphs" fill="#262626" stroke="#262626" stroke-width="0.3">N</text>
<text x="988.5" y="572.0999999999999" font-size="12.8" font-weight="bold" textLength="16.0" lengthAdjust="spacingAndGlyphs" fill="#262626" stroke="#262626" stroke-width="0.3">40</text>
<text x="1017.5" y="572.0999999999999" font-size="12.8" font-weight="bold" textLength="9.0" lengthAdjust="spacingAndGlyphs" fill="#262626" stroke="#262626" stroke-width="0.3">N</text>
<text x="988.5" y="587.0999999999999" font-size="12.8" font-weight="bold" textLength="16.0" lengthAdjust="spacingAndGlyphs" fill="#262626" stroke="#262626" stroke-width="0.3">38</text>
<text x="1017.5" y="587.0999999999999" font-size="12.8" font-weight="bold" textLength="9.0" lengthAdjust="spacingAndGlyphs" fill="#262626" stroke="#262626" stroke-width="0.3">N</text>
<text x="988.5" y="604.0999999999999" font-size="12.8" font-weight="bold" textLength="16.0" lengthAdjust="spacingAndGlyphs" fill="#262626" stroke="#262626" stroke-width="0.3">36</text>
<text x="1017.5" y="604.0999999999999" font-size="12.8" font-weight="bold" textLength="9.0" lengthAdjust="spacingAndGlyphs" fill="#262626" stroke="#262626" stroke-width="0.3">N</text>
<text x="988.5" y="618.6999999999999" font-size="12.8" font-weight="bold" textLength="16.0" lengthAdjust="spacingAndGlyphs" fill="#262626" stroke="#262626" stroke-width="0.3">34</text>
<text x="1017.5" y="618.6999999999999" font-size="12.8" font-weight="bold" textLength="9.0" lengthAdjust="spacingAndGlyphs" fill="#262626" stroke="#262626" stroke-width="0.3">N</text>
<text x="988.5" y="635.4" font-size="12.8" font-weight="bold" textLength="16.0" lengthAdjust="spacingAndGlyphs" fill="#262626" stroke="#262626" stroke-width="0.3">32</text>
<text x="1017.5" y="635.4" font-size="12.8" font-weight="bold" textLength="9.0" lengthAdjust="spacingAndGlyphs" fill="#262626" stroke="#262626" stroke-width="0.3">N</text>
<text x="988.5" y="649.5999999999999" font-size="12.8" font-weight="bold" textLength="16.0" lengthAdjust="spacingAndGlyphs" fill="#262626" stroke="#262626" stroke-width="0.3">30</text>
<text x="1017.5" y="649.5999999999999" font-size="12.8" font-weight="bold" textLength="9.0" lengthAdjust="spacingAndGlyphs" fill="#262626" stroke="#262626" stroke-width="0.3">N</text>
<text x="988.5" y="664.0999999999999" font-size="12.8" font-weight="bold" textLength="16.0" lengthAdjust="spacingAndGlyphs" fill="#262626" stroke="#262626" stroke-width="0.3">28</text>
<text x="1017.5" y="664.0999999999999" font-size="12.8" font-weight="bold" textLength="9.0" lengthAdjust="spacingAndGlyphs" fill="#262626" stroke="#262626" stroke-width="0.3">N</text>
<text x="988.5" y="678.6999999999999" font-size="12.8" font-weight="bold" textLength="16.0" lengthAdjust="spacingAndGlyphs" fill="#262626" stroke="#262626" stroke-width="0.3">26</text>
<text x="1017.5" y="678.6999999999999" font-size="12.8" font-weight="bold" textLength="9.0" lengthAdjust="spacingAndGlyphs" fill="#262626" stroke="#262626" stroke-width="0.3">N</text>
<text x="988.5" y="691.6" font-size="12.8" font-weight="bold" textLength="16.0" lengthAdjust="spacingAndGlyphs" fill="#262626" stroke="#262626" stroke-width="0.3">24</text>
<text x="1017.5" y="691.6" font-size="12.8" font-weight="bold" textLength="9.0" lengthAdjust="spacingAndGlyphs" fill="#262626" stroke="#262626" stroke-width="0.3">N</text>
<text x="988.5" y="706.0" font-size="12.8" font-weight="bold" textLength="16.0" lengthAdjust="spacingAndGlyphs" fill="#262626" stroke="#262626" stroke-width="0.3">22</text>
<text x="1017.5" y="706.0" font-size="12.8" font-weight="bold" textLength="9.0" lengthAdjust="spacingAndGlyphs" fill="#262626" stroke="#262626" stroke-width="0.3">N</text>
<circle cx="245.2" cy="64.3" r="1.3" fill="none" stroke="#262626" stroke-width="0.85"/>
<circle cx="305.2" cy="64.3" r="1.3" fill="none" stroke="#262626" stroke-width="0.85"/>
<circle cx="370.2" cy="64.3" r="1.3" fill="none" stroke="#262626" stroke-width="0.85"/>
<circle cx="432.0" cy="64.3" r="1.3" fill="none" stroke="#262626" stroke-width="0.85"/>
<circle cx="167.7" cy="99.4" r="1.3" fill="none" stroke="#262626" stroke-width="0.85"/>
<circle cx="167.7" cy="118.3" r="1.3" fill="none" stroke="#262626" stroke-width="0.85"/>
<circle cx="167.7" cy="135.0" r="1.3" fill="none" stroke="#262626" stroke-width="0.85"/>
<circle cx="167.7" cy="153.3" r="1.3" fill="none" stroke="#262626" stroke-width="0.85"/>
<circle cx="167.7" cy="170.3" r="1.3" fill="none" stroke="#262626" stroke-width="0.85"/>
<circle cx="167.7" cy="185.4" r="1.3" fill="none" stroke="#262626" stroke-width="0.85"/>
<circle cx="167.7" cy="201.3" r="1.3" fill="none" stroke="#262626" stroke-width="0.85"/>
<circle cx="167.7" cy="216.3" r="1.3" fill="none" stroke="#262626" stroke-width="0.85"/>
<circle cx="167.7" cy="233.5" r="1.3" fill="none" stroke="#262626" stroke-width="0.85"/>
<circle cx="167.7" cy="247.3" r="1.3" fill="none" stroke="#262626" stroke-width="0.85"/>
<circle cx="167.7" cy="260.0" r="1.3" fill="none" stroke="#262626" stroke-width="0.85"/>
<circle cx="167.7" cy="274.5" r="1.3" fill="none" stroke="#262626" stroke-width="0.85"/>
<circle cx="167.7" cy="289.0" r="1.3" fill="none" stroke="#262626" stroke-width="0.85"/>
<circle cx="167.7" cy="301.1" r="1.3" fill="none" stroke="#262626" stroke-width="0.85"/>
<circle cx="666.1" cy="64.3" r="1.3" fill="none" stroke="#262626" stroke-width="0.85"/>
<circle cx="726.1" cy="64.3" r="1.3" fill="none" stroke="#262626" stroke-width="0.85"/>
<circle cx="791.1" cy="64.3" r="1.3" fill="none" stroke="#262626" stroke-width="0.85"/>
<circle cx="852.9" cy="64.3" r="1.3" fill="none" stroke="#262626" stroke-width="0.85"/>
<circle cx="588.6" cy="99.4" r="1.3" fill="none" stroke="#262626" stroke-width="0.85"/>
<circle cx="588.6" cy="118.3" r="1.3" fill="none" stroke="#262626" stroke-width="0.85"/>
<circle cx="588.6" cy="135.0" r="1.3" fill="none" stroke="#262626" stroke-width="0.85"/>
<circle cx="588.6" cy="153.3" r="1.3" fill="none" stroke="#262626" stroke-width="0.85"/>
<circle cx="588.6" cy="170.3" r="1.3" fill="none" stroke="#262626" stroke-width="0.85"/>
<circle cx="588.6" cy="185.4" r="1.3" fill="none" stroke="#262626" stroke-width="0.85"/>
<circle cx="588.6" cy="201.3" r="1.3" fill="none" stroke="#262626" stroke-width="0.85"/>
<circle cx="588.6" cy="216.3" r="1.3" fill="none" stroke="#262626" stroke-width="0.85"/>
<circle cx="588.6" cy="233.5" r="1.3" fill="none" stroke="#262626" stroke-width="0.85"/>
<circle cx="588.6" cy="247.3" r="1.3" fill="none" stroke="#262626" stroke-width="0.85"/>
<circle cx="588.6" cy="260.0" r="1.3" fill="none" stroke="#262626" stroke-width="0.85"/>
<circle cx="588.6" cy="274.5" r="1.3" fill="none" stroke="#262626" stroke-width="0.85"/>
<circle cx="588.6" cy="289.0" r="1.3" fill="none" stroke="#262626" stroke-width="0.85"/>
<circle cx="588.6" cy="301.1" r="1.3" fill="none" stroke="#262626" stroke-width="0.85"/>
<circle cx="1089.2" cy="62.5" r="1.3" fill="none" stroke="#262626" stroke-width="0.85"/>
<circle cx="1147.6" cy="62.5" r="1.3" fill="none" stroke="#262626" stroke-width="0.85"/>
<circle cx="1211.8" cy="62.5" r="1.3" fill="none" stroke="#262626" stroke-width="0.85"/>
<circle cx="1275.8" cy="62.5" r="1.3" fill="none" stroke="#262626" stroke-width="0.85"/>
<circle cx="1009.3" cy="99.4" r="1.3" fill="none" stroke="#262626" stroke-width="0.85"/>
<circle cx="1009.3" cy="118.3" r="1.3" fill="none" stroke="#262626" stroke-width="0.85"/>
<circle cx="1009.3" cy="135.0" r="1.3" fill="none" stroke="#262626" stroke-width="0.85"/>
<circle cx="1009.3" cy="153.3" r="1.3" fill="none" stroke="#262626" stroke-width="0.85"/>
<circle cx="1009.3" cy="170.3" r="1.3" fill="none" stroke="#262626" stroke-width="0.85"/>
<circle cx="1009.3" cy="185.4" r="1.3" fill="none" stroke="#262626" stroke-width="0.85"/>
<circle cx="1009.3" cy="201.3" r="1.3" fill="none" stroke="#262626" stroke-width="0.85"/>
<circle cx="1009.3" cy="216.3" r="1.3" fill="none" stroke="#262626" stroke-width="0.85"/>
<circle cx="1009.3" cy="233.5" r="1.3" fill="none" stroke="#262626" stroke-width="0.85"/>
<circle cx="1009.3" cy="247.3" r="1.3" fill="none" stroke="#262626" stroke-width="0.85"/>
<circle cx="1009.3" cy="262.2" r="1.3" fill="none" stroke="#262626" stroke-width="0.85"/>
<circle cx="1009.3" cy="276.7" r="1.3" fill="none" stroke="#262626" stroke-width="0.85"/>
<circle cx="1009.3" cy="289.0" r="1.3" fill="none" stroke="#262626" stroke-width="0.85"/>
<circle cx="1009.3" cy="304.0" r="1.3" fill="none" stroke="#262626" stroke-width="0.85"/>
<circle cx="245.2" cy="454.1" r="1.3" fill="none" stroke="#262626" stroke-width="0.85"/>
<circle cx="305.2" cy="454.1" r="1.3" fill="none" stroke="#262626" stroke-width="0.85"/>
<circle cx="370.2" cy="454.1" r="1.3" fill="none" stroke="#262626" stroke-width="0.85"/>
<circle cx="432.0" cy="454.1" r="1.3" fill="none" stroke="#262626" stroke-width="0.85"/>
<circle cx="167.7" cy="489.2" r="1.3" fill="none" stroke="#262626" stroke-width="0.85"/>
<circle cx="167.7" cy="508.1" r="1.3" fill="none" stroke="#262626" stroke-width="0.85"/>
<circle cx="167.7" cy="524.8" r="1.3" fill="none" stroke="#262626" stroke-width="0.85"/>
<circle cx="167.7" cy="543.1" r="1.3" fill="none" stroke="#262626" stroke-width="0.85"/>
<circle cx="167.7" cy="560.1" r="1.3" fill="none" stroke="#262626" stroke-width="0.85"/>
<circle cx="167.7" cy="575.2" r="1.3" fill="none" stroke="#262626" stroke-width="0.85"/>
<circle cx="167.7" cy="591.1" r="1.3" fill="none" stroke="#262626" stroke-width="0.85"/>
<circle cx="167.7" cy="606.1" r="1.3" fill="none" stroke="#262626" stroke-width="0.85"/>
<circle cx="167.7" cy="623.3" r="1.3" fill="none" stroke="#262626" stroke-width="0.85"/>
<circle cx="167.7" cy="637.1" r="1.3" fill="none" stroke="#262626" stroke-width="0.85"/>
<circle cx="167.7" cy="649.8" r="1.3" fill="none" stroke="#262626" stroke-width="0.85"/>
<circle cx="167.7" cy="664.3" r="1.3" fill="none" stroke="#262626" stroke-width="0.85"/>
<circle cx="167.7" cy="678.8" r="1.3" fill="none" stroke="#262626" stroke-width="0.85"/>
<circle cx="167.7" cy="690.9" r="1.3" fill="none" stroke="#262626" stroke-width="0.85"/>
<circle cx="666.1" cy="454.1" r="1.3" fill="none" stroke="#262626" stroke-width="0.85"/>
<circle cx="726.1" cy="454.1" r="1.3" fill="none" stroke="#262626" stroke-width="0.85"/>
<circle cx="791.1" cy="454.1" r="1.3" fill="none" stroke="#262626" stroke-width="0.85"/>
<circle cx="852.9" cy="454.1" r="1.3" fill="none" stroke="#262626" stroke-width="0.85"/>
<circle cx="588.6" cy="489.2" r="1.3" fill="none" stroke="#262626" stroke-width="0.85"/>
<circle cx="588.6" cy="508.1" r="1.3" fill="none" stroke="#262626" stroke-width="0.85"/>
<circle cx="588.6" cy="524.8" r="1.3" fill="none" stroke="#262626" stroke-width="0.85"/>
<circle cx="588.6" cy="543.1" r="1.3" fill="none" stroke="#262626" stroke-width="0.85"/>
<circle cx="588.6" cy="560.1" r="1.3" fill="none" stroke="#262626" stroke-width="0.85"/>
<circle cx="588.6" cy="575.2" r="1.3" fill="none" stroke="#262626" stroke-width="0.85"/>
<circle cx="588.6" cy="591.1" r="1.3" fill="none" stroke="#262626" stroke-width="0.85"/>
<circle cx="588.6" cy="606.1" r="1.3" fill="none" stroke="#262626" stroke-width="0.85"/>
<circle cx="588.6" cy="623.3" r="1.3" fill="none" stroke="#262626" stroke-width="0.85"/>
<circle cx="588.6" cy="637.1" r="1.3" fill="none" stroke="#262626" stroke-width="0.85"/>
<circle cx="588.6" cy="649.8" r="1.3" fill="none" stroke="#262626" stroke-width="0.85"/>
<circle cx="588.6" cy="664.3" r="1.3" fill="none" stroke="#262626" stroke-width="0.85"/>
<circle cx="588.6" cy="678.8" r="1.3" fill="none" stroke="#262626" stroke-width="0.85"/>
<circle cx="588.6" cy="690.9" r="1.3" fill="none" stroke="#262626" stroke-width="0.85"/>
<circle cx="1089.2" cy="452.3" r="1.3" fill="none" stroke="#262626" stroke-width="0.85"/>
<circle cx="1147.6" cy="452.3" r="1.3" fill="none" stroke="#262626" stroke-width="0.85"/>
<circle cx="1211.8" cy="452.3" r="1.3" fill="none" stroke="#262626" stroke-width="0.85"/>
<circle cx="1275.8" cy="452.3" r="1.3" fill="none" stroke="#262626" stroke-width="0.85"/>
<circle cx="1009.3" cy="489.2" r="1.3" fill="none" stroke="#262626" stroke-width="0.85"/>
<circle cx="1009.3" cy="508.1" r="1.3" fill="none" stroke="#262626" stroke-width="0.85"/>
<circle cx="1009.3" cy="524.8" r="1.3" fill="none" stroke="#262626" stroke-width="0.85"/>
<circle cx="1009.3" cy="543.1" r="1.3" fill="none" stroke="#262626" stroke-width="0.85"/>
<circle cx="1009.3" cy="560.1" r="1.3" fill="none" stroke="#262626" stroke-width="0.85"/>
<circle cx="1009.3" cy="575.2" r="1.3" fill="none" stroke="#262626" stroke-width="0.85"/>
<circle cx="1009.3" cy="591.1" r="1.3" fill="none" stroke="#262626" stroke-width="0.85"/>
<circle cx="1009.3" cy="606.1" r="1.3" fill="none" stroke="#262626" stroke-width="0.85"/>
<circle cx="1009.3" cy="623.3" r="1.3" fill="none" stroke="#262626" stroke-width="0.85"/>
<circle cx="1009.3" cy="637.1" r="1.3" fill="none" stroke="#262626" stroke-width="0.85"/>
<circle cx="1009.3" cy="652.0" r="1.3" fill="none" stroke="#262626" stroke-width="0.85"/>
<circle cx="1009.3" cy="666.5" r="1.3" fill="none" stroke="#262626" stroke-width="0.85"/>
<circle cx="1009.3" cy="678.8" r="1.3" fill="none" stroke="#262626" stroke-width="0.85"/>
<circle cx="1009.3" cy="693.8" r="1.3" fill="none" stroke="#262626" stroke-width="0.85"/>
</svg></body></html>
